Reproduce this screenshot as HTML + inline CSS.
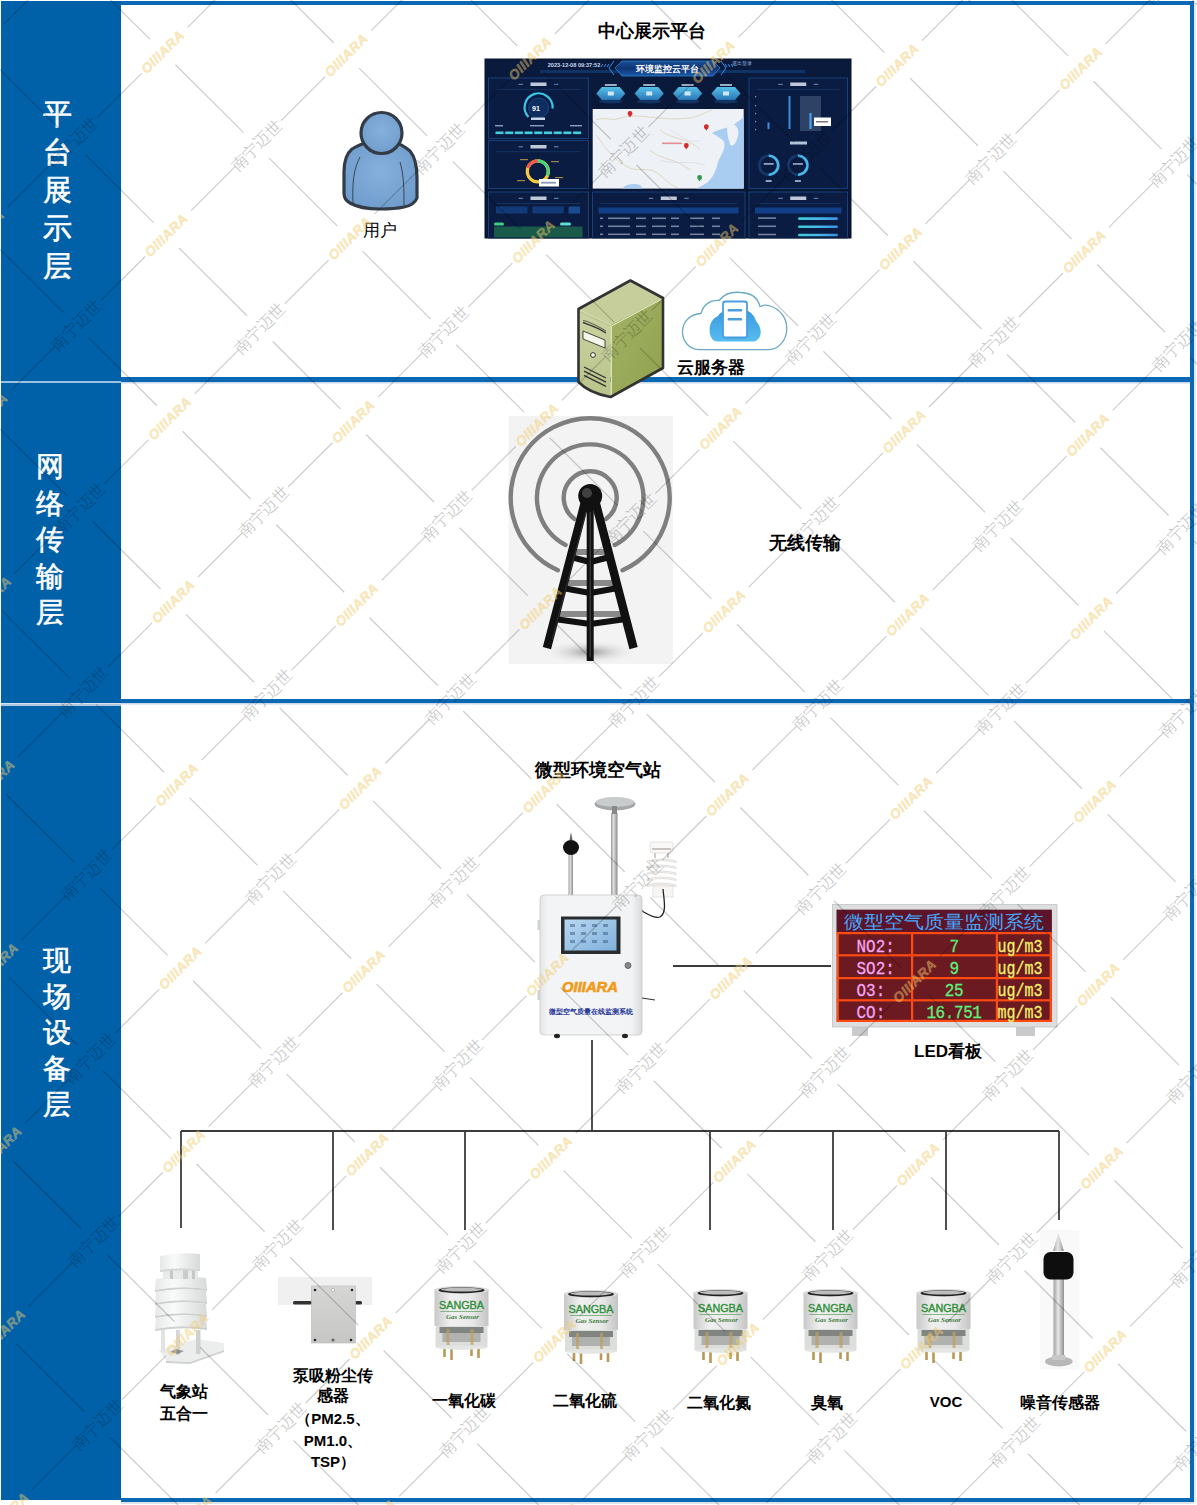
<!DOCTYPE html>
<html><head><meta charset="utf-8"><style>
html,body{margin:0;padding:0;background:#fff;width:1197px;height:1505px;overflow:hidden}
svg{display:block}
</style></head><body>
<svg width="1197" height="1505" viewBox="0 0 1197 1505">

<rect x="0" y="0" width="1197" height="1505" fill="#fff"/>
<!-- panel borders -->
<rect x="121" y="1" width="1073" height="4" fill="#0a68b4"/>
<rect x="121" y="377" width="1073" height="5" fill="#0a68b4"/>
<rect x="121" y="699" width="1073" height="4" fill="#0a68b4"/>
<rect x="121" y="1498" width="1073" height="4" fill="#0a68b4"/>
<rect x="1190" y="1" width="4" height="1501" fill="#0a68b4"/>
<rect x="121" y="1502" width="1073" height="2" fill="#dde4ea"/>
<rect x="1194" y="3" width="2" height="1500" fill="#e4eaf0"/>
<rect x="121" y="382" width="1069" height="1.5" fill="#c8d8e8"/>
<rect x="121" y="703" width="1069" height="1.5" fill="#c8d8e8"/>
<!-- left column -->
<rect x="1" y="1" width="120" height="380" fill="#0161a8"/>
<rect x="1" y="383" width="120" height="320" fill="#0161a8"/>
<rect x="1" y="706" width="120" height="794" fill="#0161a8"/>
<rect x="1" y="381" width="120" height="2" fill="#9cc0e0"/>
<rect x="1" y="703.5" width="120" height="2.5" fill="#b0c8dc"/>
<text x="57" y="124" font-size="29" fill="#fff" font-family="'Liberation Serif',serif" font-weight="normal" stroke="#fff" stroke-width="0.6" text-anchor="middle">平</text><text x="57" y="162" font-size="29" fill="#fff" font-family="'Liberation Serif',serif" font-weight="normal" stroke="#fff" stroke-width="0.6" text-anchor="middle">台</text><text x="57" y="200" font-size="29" fill="#fff" font-family="'Liberation Serif',serif" font-weight="normal" stroke="#fff" stroke-width="0.6" text-anchor="middle">展</text><text x="57" y="238" font-size="29" fill="#fff" font-family="'Liberation Serif',serif" font-weight="normal" stroke="#fff" stroke-width="0.6" text-anchor="middle">示</text><text x="57" y="276" font-size="29" fill="#fff" font-family="'Liberation Serif',serif" font-weight="normal" stroke="#fff" stroke-width="0.6" text-anchor="middle">层</text><text x="50" y="476.0" font-size="28" fill="#fff" font-family="'Liberation Serif',serif" font-weight="normal" stroke="#fff" stroke-width="0.6" text-anchor="middle">网</text><text x="50" y="512.6" font-size="28" fill="#fff" font-family="'Liberation Serif',serif" font-weight="normal" stroke="#fff" stroke-width="0.6" text-anchor="middle">络</text><text x="50" y="549.2" font-size="28" fill="#fff" font-family="'Liberation Serif',serif" font-weight="normal" stroke="#fff" stroke-width="0.6" text-anchor="middle">传</text><text x="50" y="585.8" font-size="28" fill="#fff" font-family="'Liberation Serif',serif" font-weight="normal" stroke="#fff" stroke-width="0.6" text-anchor="middle">输</text><text x="50" y="622.4" font-size="28" fill="#fff" font-family="'Liberation Serif',serif" font-weight="normal" stroke="#fff" stroke-width="0.6" text-anchor="middle">层</text><text x="57" y="970" font-size="28" fill="#fff" font-family="'Liberation Serif',serif" font-weight="normal" stroke="#fff" stroke-width="0.6" text-anchor="middle">现</text><text x="57" y="1006" font-size="28" fill="#fff" font-family="'Liberation Serif',serif" font-weight="normal" stroke="#fff" stroke-width="0.6" text-anchor="middle">场</text><text x="57" y="1042" font-size="28" fill="#fff" font-family="'Liberation Serif',serif" font-weight="normal" stroke="#fff" stroke-width="0.6" text-anchor="middle">设</text><text x="57" y="1078" font-size="28" fill="#fff" font-family="'Liberation Serif',serif" font-weight="normal" stroke="#fff" stroke-width="0.6" text-anchor="middle">备</text><text x="57" y="1114" font-size="28" fill="#fff" font-family="'Liberation Serif',serif" font-weight="normal" stroke="#fff" stroke-width="0.6" text-anchor="middle">层</text><text x="652" y="37" font-size="18" fill="#000" font-family="'Liberation Serif',serif" font-weight="bold" text-anchor="middle" >中心展示平台</text><text x="380" y="236" font-size="17" fill="#000" font-family="'Liberation Serif',serif" font-weight="normal" text-anchor="middle" >用户</text><text x="711" y="373" font-size="17" fill="#000" font-family="'Liberation Serif',serif" font-weight="bold" text-anchor="middle" >云服务器</text><text x="805" y="549" font-size="18" fill="#000" font-family="'Liberation Serif',serif" font-weight="bold" text-anchor="middle" >无线传输</text><text x="598" y="776" font-size="18" fill="#000" font-family="'Liberation Serif',serif" font-weight="bold" text-anchor="middle" >微型环境空气站</text><text x="948" y="1057" font-size="17" fill="#000" font-family="'Liberation Sans',sans-serif" font-weight="bold" text-anchor="middle" >LED看板</text><g stroke="#3c3c3c" stroke-width="1.8" fill="none"><line x1="181" y1="1131" x2="1059" y2="1131"/><line x1="181" y1="1131" x2="181" y2="1228"/><line x1="333" y1="1131" x2="333" y2="1230"/><line x1="465" y1="1131" x2="465" y2="1230"/><line x1="592" y1="1131" x2="592" y2="1131"/><line x1="710" y1="1131" x2="710" y2="1230"/><line x1="833" y1="1131" x2="833" y2="1230"/><line x1="946" y1="1131" x2="946" y2="1230"/><line x1="1059" y1="1131" x2="1059" y2="1220"/><line x1="592" y1="1040" x2="592" y2="1131"/><line x1="673" y1="966" x2="831" y2="966"/></g><text x="184" y="1397" font-size="16" fill="#000" font-family="'Liberation Serif',serif" font-weight="bold" text-anchor="middle" >气象站</text><text x="184" y="1419" font-size="16" fill="#000" font-family="'Liberation Serif',serif" font-weight="bold" text-anchor="middle" >五合一</text><text x="333" y="1381" font-size="16" fill="#000" font-family="'Liberation Serif',serif" font-weight="bold" text-anchor="middle" >泵吸粉尘传</text><text x="333" y="1401" font-size="16" fill="#000" font-family="'Liberation Serif',serif" font-weight="bold" text-anchor="middle" >感器</text><text x="333" y="1424" font-size="15" fill="#000" font-family="'Liberation Sans',sans-serif" font-weight="bold" text-anchor="middle" >（PM2.5、</text><text x="333" y="1446" font-size="15" fill="#000" font-family="'Liberation Sans',sans-serif" font-weight="bold" text-anchor="middle" >PM1.0、</text><text x="333" y="1467" font-size="15" fill="#000" font-family="'Liberation Sans',sans-serif" font-weight="bold" text-anchor="middle" >TSP）</text><text x="464" y="1406" font-size="16" fill="#000" font-family="'Liberation Serif',serif" font-weight="bold" text-anchor="middle" >一氧化碳</text><text x="585" y="1406" font-size="16" fill="#000" font-family="'Liberation Serif',serif" font-weight="bold" text-anchor="middle" >二氧化硫</text><text x="719" y="1408" font-size="16" fill="#000" font-family="'Liberation Serif',serif" font-weight="bold" text-anchor="middle" >二氧化氮</text><text x="827" y="1408" font-size="16" fill="#000" font-family="'Liberation Serif',serif" font-weight="bold" text-anchor="middle" >臭氧</text><text x="946" y="1407" font-size="15" fill="#000" font-family="'Liberation Sans',sans-serif" font-weight="bold" text-anchor="middle" >VOC</text><text x="1060" y="1408" font-size="16" fill="#000" font-family="'Liberation Serif',serif" font-weight="bold" text-anchor="middle" >噪音传感器</text><g>
<defs><radialGradient id="pg" cx="0.5" cy="0.45" r="0.6"><stop offset="0" stop-color="#86b0dc"/><stop offset="1" stop-color="#6f9ccc"/></radialGradient></defs>
<path d="M352,149 C360,144 368,142 372,141 L392,141 C398,143 404,146 410,151 C416,158 417,168 417,178 L417,198 C415,203 410,206 404,207 C395,209 387,209 380,209 C370,209 357,207 350,203 C346,201 344,197 344,193 L344,172 C344,162 346,154 352,149 Z" fill="url(#pg)" stroke="#333c46" stroke-width="3.2" stroke-linejoin="round"/>
<path d="M360,157 C354,168 352,182 353,203" fill="none" stroke="#3a4652" stroke-width="1"/>
<path d="M400,162 C404,175 404,190 404,207" fill="none" stroke="#3a4652" stroke-width="1"/>
<circle cx="381.5" cy="133" r="20.5" fill="url(#pg)" stroke="#333c46" stroke-width="3.2"/>
</g><g><defs>
<linearGradient id="dbg" x1="0" y1="0" x2="0" y2="1"><stop offset="0" stop-color="#0a1a3c"/><stop offset="1" stop-color="#081634"/></linearGradient>
<linearGradient id="hexg" x1="0" y1="0" x2="0" y2="1"><stop offset="0" stop-color="#56c0e8"/><stop offset="1" stop-color="#2a78b8"/></linearGradient>
<linearGradient id="titg" x1="0" y1="0" x2="0" y2="1"><stop offset="0" stop-color="#1a4f96"/><stop offset="0.5" stop-color="#0f3575"/><stop offset="1" stop-color="#1b5aa8"/></linearGradient>
<linearGradient id="mapg" x1="0" y1="0" x2="1" y2="0"><stop offset="0" stop-color="#eef1f5"/><stop offset="0.75" stop-color="#e9eef3"/><stop offset="0.78" stop-color="#a9cbee"/><stop offset="1" stop-color="#a2c8ef"/></linearGradient>
<linearGradient id="barg" x1="0" y1="0" x2="1" y2="0"><stop offset="0" stop-color="#37d0d8"/><stop offset="0.5" stop-color="#4cb8e8"/><stop offset="1" stop-color="#3a8ee0"/></linearGradient>
</defs><rect x="485" y="59" width="366" height="179" fill="url(#dbg)"/><rect x="485" y="59" width="366" height="17" fill="#0a1a3c"/><rect x="540" y="70" width="80" height="3" fill="#123a70" opacity="0.8"/><rect x="715" y="70" width="90" height="3" fill="#123a70" opacity="0.8"/><polygon points="622,61 713,61 720,68 713,76 622,76 615,68" fill="url(#titg)" stroke="#2f7fd0" stroke-width="0.8"/><path d="M614,61 l-5,7 l5,7 M721,61 l5,7 l-5,7" fill="none" stroke="#3a8ae0" stroke-width="1"/><text x="667.5" y="72" font-size="8.6" font-weight="bold" fill="#fff" text-anchor="middle" font-family="'Liberation Sans',sans-serif">环境监控云平台</text><text x="574" y="66.5" font-size="5.6" fill="#c8d8f0" text-anchor="middle" font-family="'Liberation Sans',sans-serif" font-weight="bold">2023-12-08 09:37:52</text><text x="742" y="65" font-size="4.5" fill="#9fb8e0" text-anchor="middle" font-family="'Liberation Sans',sans-serif">退出登录</text><path d="M603,64 l-2,3 M606,64 l-2,3 M609,64 l-2,3 M725,64 l2,3 M728,64 l2,3 M731,64 l2,3" stroke="#3b8ae0" stroke-width="1"/><rect x="488.5" y="78" width="100" height="60.5" fill="#0a1c42" stroke="#1d4580" stroke-width="0.9"/><rect x="530.5" y="82.5" width="16" height="3.5" fill="#dfe8f5" opacity="0.85"/><rect x="518.5" y="83.8" width="4.5" height="1" fill="#6f8fbf"/><rect x="554.0" y="83.8" width="4.5" height="1" fill="#6f8fbf"/><rect x="496.5" y="89" width="84" height="0.6" fill="#1d3f73"/><rect x="488.5" y="140.5" width="100" height="48" fill="#0a1c42" stroke="#1d4580" stroke-width="0.9"/><rect x="530.5" y="145.0" width="16" height="3.5" fill="#dfe8f5" opacity="0.85"/><rect x="518.5" y="146.3" width="4.5" height="1" fill="#6f8fbf"/><rect x="554.0" y="146.3" width="4.5" height="1" fill="#6f8fbf"/><rect x="496.5" y="151.5" width="84" height="0.6" fill="#1d3f73"/><rect x="488.5" y="192" width="100" height="46" fill="#0a1c42" stroke="#1d4580" stroke-width="0.9"/><rect x="530.5" y="196.5" width="16" height="3.5" fill="#dfe8f5" opacity="0.85"/><rect x="518.5" y="197.8" width="4.5" height="1" fill="#6f8fbf"/><rect x="554.0" y="197.8" width="4.5" height="1" fill="#6f8fbf"/><rect x="496.5" y="203" width="84" height="0.6" fill="#1d3f73"/><rect x="592.5" y="192" width="152.5" height="46" fill="#0a1c42" stroke="#1d4580" stroke-width="0.9"/><rect x="660.75" y="196.5" width="16" height="3.5" fill="#dfe8f5" opacity="0.85"/><rect x="648.75" y="197.8" width="4.5" height="1" fill="#6f8fbf"/><rect x="684.25" y="197.8" width="4.5" height="1" fill="#6f8fbf"/><rect x="600.5" y="203" width="136.5" height="0.6" fill="#1d3f73"/><rect x="749" y="78" width="98.5" height="110.5" fill="#0a1c42" stroke="#1d4580" stroke-width="0.9"/><rect x="790.25" y="82.5" width="16" height="3.5" fill="#dfe8f5" opacity="0.85"/><rect x="778.25" y="83.8" width="4.5" height="1" fill="#6f8fbf"/><rect x="813.75" y="83.8" width="4.5" height="1" fill="#6f8fbf"/><rect x="757" y="89" width="82.5" height="0.6" fill="#1d3f73"/><rect x="749" y="192" width="98.5" height="46" fill="#0a1c42" stroke="#1d4580" stroke-width="0.9"/><rect x="790.25" y="196.5" width="16" height="3.5" fill="#dfe8f5" opacity="0.85"/><rect x="778.25" y="197.8" width="4.5" height="1" fill="#6f8fbf"/><rect x="813.75" y="197.8" width="4.5" height="1" fill="#6f8fbf"/><rect x="757" y="203" width="82.5" height="0.6" fill="#1d3f73"/><circle cx="538.6" cy="108" r="10" fill="#0e2e62" stroke="#19457f" stroke-width="1"/><path d="M528.5,117 A14,14 0 1 1 552.6,108.5" fill="none" stroke="#38c6e8" stroke-width="2.2"/><text x="536" y="110.5" font-size="7" fill="#fff" text-anchor="middle" font-family="'Liberation Sans',sans-serif" font-weight="bold">91</text><rect x="531" y="117.5" width="14" height="2.5" fill="#c8d4e6"/><rect x="495" y="125" width="8" height="1.4" fill="#8aa0c0"/><rect x="530" y="125" width="14" height="1.4" fill="#8aa0c0"/><rect x="570" y="125" width="12" height="1.4" fill="#8aa0c0"/><rect x="495.5" y="131.5" width="8" height="2.6" fill="#3fd0e0"/><rect x="505.2" y="131.5" width="8" height="2.6" fill="#3fd0e0"/><rect x="514.9" y="131.5" width="8" height="2.6" fill="#3fd0e0"/><rect x="524.6" y="131.5" width="8" height="2.6" fill="#3fd0e0"/><rect x="534.3" y="131.5" width="8" height="2.6" fill="#3fd0e0"/><rect x="544.0" y="131.5" width="8" height="2.6" fill="#3fd0e0"/><rect x="553.7" y="131.5" width="8" height="2.6" fill="#3fd0e0"/><rect x="563.4" y="131.5" width="8" height="2.6" fill="#3fd0e0"/><rect x="573.1" y="131.5" width="8" height="2.6" fill="#3fd0e0"/><circle cx="537.8" cy="171.4" r="10.5" fill="none" stroke="#f5c842" stroke-width="3.2"/><path d="M527.8,168 A10.5,10.5 0 0 1 537.8,160.9" fill="none" stroke="#ef5a4a" stroke-width="3.2"/><path d="M537.8,160.9 A10.5,10.5 0 0 1 547.3,175.5" fill="none" stroke="#4ad37a" stroke-width="3.2"/><rect x="539" y="179" width="20" height="7.5" fill="#fff"/><rect x="541" y="181.8" width="15" height="1.8" fill="#8a9ab8"/><rect x="520" y="159" width="8" height="1.2" fill="#c8a040" opacity="0.8"/><rect x="551" y="161" width="8" height="1.2" fill="#c8a040" opacity="0.8"/><rect x="517" y="180" width="8" height="1.2" fill="#c8a040" opacity="0.8"/><rect x="555" y="177" width="8" height="1.2" fill="#c8a040" opacity="0.8"/><rect x="496" y="206.5" width="31.5" height="7" fill="#123a78"/><rect x="532.5" y="206.5" width="31.5" height="7" fill="#123a78"/><rect x="568.5" y="206.5" width="11.5" height="7" fill="#1a4a90"/><rect x="494" y="226.5" width="88.5" height="11.5" fill="#1a5a4a"/><rect x="494" y="222.5" width="10" height="3" rx="1.5" fill="#3fcf80"/><rect x="560" y="222.5" width="11" height="3" rx="1.5" fill="#5de0d0"/><polygon points="596.3,93.4 601.8,86.9 619.8,86.9 625.3,93.4 619.8,99.9 601.8,99.9" fill="url(#hexg)"/><rect x="604.8" y="84" width="12" height="2" fill="#c0d0e8" opacity="0.8"/><rect x="607.8" y="91.5" width="6" height="4" fill="#e8f4ff" opacity="0.85"/><ellipse cx="610.8" cy="101.4" rx="12" ry="2" fill="#1b4f8a" opacity="0.5"/><polygon points="634.7,93.4 640.2,86.9 658.2,86.9 663.7,93.4 658.2,99.9 640.2,99.9" fill="url(#hexg)"/><rect x="643.2" y="84" width="12" height="2" fill="#c0d0e8" opacity="0.8"/><rect x="646.2" y="91.5" width="6" height="4" fill="#e8f4ff" opacity="0.85"/><ellipse cx="649.2" cy="101.4" rx="12" ry="2" fill="#1b4f8a" opacity="0.5"/><polygon points="673.1,93.4 678.6,86.9 696.6,86.9 702.1,93.4 696.6,99.9 678.6,99.9" fill="url(#hexg)"/><rect x="681.6" y="84" width="12" height="2" fill="#c0d0e8" opacity="0.8"/><rect x="684.6" y="91.5" width="6" height="4" fill="#e8f4ff" opacity="0.85"/><ellipse cx="687.6" cy="101.4" rx="12" ry="2" fill="#1b4f8a" opacity="0.5"/><polygon points="711.5,93.4 717,86.9 735,86.9 740.5,93.4 735,99.9 717,99.9" fill="url(#hexg)"/><rect x="720" y="84" width="12" height="2" fill="#c0d0e8" opacity="0.8"/><rect x="723" y="91.5" width="6" height="4" fill="#e8f4ff" opacity="0.85"/><ellipse cx="726" cy="101.4" rx="12" ry="2" fill="#1b4f8a" opacity="0.5"/><rect x="592.7" y="109" width="151" height="79.6" fill="#eef1f6"/><path d="M743.7,117 C738,122 732,126 726,128 C720,129 716,131 712,133 C716,136 722,138 724,142 C726,150 720,156 718,162 C716,170 714,176 708,182 C704,185 700,187 696,188.6 L743.7,188.6 Z" fill="#a9cdf0"/><path d="M728,124 C734,122 740,128 738,136 C736,144 732,148 730,144 C728,138 726,130 728,124 Z" fill="#eef1f6"/><path d="M622,188.6 C626,184 634,183 640,185 C642,187 642,188 642,188.6 Z" fill="#a9cdf0"/><path d="M596,120 C606,116 612,122 620,118 C640,112 660,122 690,118 C700,116 706,112 712,110 M596,135 C604,145 612,160 630,168 C640,172 650,166 660,175 C668,182 672,186 678,188 M660,130 C672,140 690,138 700,150 M650,150 C660,160 676,158 690,170" fill="none" stroke="#d9cba8" stroke-width="0.7"/><path d="M670,130 C680,135 690,145 700,140 M660,160 C670,165 690,160 705,165" fill="none" stroke="#c8d0e0" stroke-width="0.5"/><circle cx="630" cy="113.4" r="2.4" fill="#d42a2a"/><path d="M628.2,114.4 L630,117.4 L631.8,114.4 Z" fill="#d42a2a"/><circle cx="706.3" cy="126.7" r="2.4" fill="#d42a2a"/><path d="M704.5,127.7 L706.3,130.7 L708.0999999999999,127.7 Z" fill="#d42a2a"/><circle cx="686.3" cy="145.4" r="2.4" fill="#d42a2a"/><path d="M684.5,146.4 L686.3,149.4 L688.0999999999999,146.4 Z" fill="#d42a2a"/><circle cx="699.6" cy="177.5" r="2.4" fill="#2f9a4a"/><path d="M697.8000000000001,178.5 L699.6,181.5 L701.4,178.5 Z" fill="#2f9a4a"/><rect x="662" y="142.5" width="20" height="1.6" fill="#e05050" opacity="0.6"/><rect x="598.5" y="207.5" width="140" height="6" fill="#123f86"/><rect x="600" y="217.5" width="3" height="1.6" fill="#b8c8e0" opacity="0.6"/><rect x="608" y="217.5" width="22" height="1.6" fill="#b8c8e0" opacity="0.6"/><rect x="636" y="217.5" width="10" height="1.6" fill="#b8c8e0" opacity="0.6"/><rect x="652" y="217.5" width="14" height="1.6" fill="#b8c8e0" opacity="0.6"/><rect x="671" y="217.5" width="8" height="1.6" fill="#b8c8e0" opacity="0.6"/><rect x="690" y="217.5" width="14" height="1.6" fill="#b8c8e0" opacity="0.6"/><rect x="712" y="217.5" width="8" height="1.6" fill="#b8c8e0" opacity="0.6"/><rect x="600" y="225.5" width="3" height="1.6" fill="#b8c8e0" opacity="0.6"/><rect x="608" y="225.5" width="22" height="1.6" fill="#b8c8e0" opacity="0.6"/><rect x="636" y="225.5" width="10" height="1.6" fill="#b8c8e0" opacity="0.6"/><rect x="652" y="225.5" width="14" height="1.6" fill="#b8c8e0" opacity="0.6"/><rect x="671" y="225.5" width="8" height="1.6" fill="#b8c8e0" opacity="0.6"/><rect x="690" y="225.5" width="14" height="1.6" fill="#b8c8e0" opacity="0.6"/><rect x="712" y="225.5" width="8" height="1.6" fill="#b8c8e0" opacity="0.6"/><rect x="600" y="233.5" width="3" height="1.6" fill="#b8c8e0" opacity="0.6"/><rect x="608" y="233.5" width="22" height="1.6" fill="#b8c8e0" opacity="0.6"/><rect x="636" y="233.5" width="10" height="1.6" fill="#b8c8e0" opacity="0.6"/><rect x="652" y="233.5" width="14" height="1.6" fill="#b8c8e0" opacity="0.6"/><rect x="671" y="233.5" width="8" height="1.6" fill="#b8c8e0" opacity="0.6"/><rect x="690" y="233.5" width="14" height="1.6" fill="#b8c8e0" opacity="0.6"/><rect x="712" y="233.5" width="8" height="1.6" fill="#b8c8e0" opacity="0.6"/><rect x="767.5" y="122.5" width="2" height="6.5" fill="#3a8ee0"/><rect x="788.5" y="96" width="2" height="33" fill="#3a8ee0"/><rect x="809.5" y="113" width="2" height="16" fill="#3a8ee0"/><rect x="800" y="96" width="21" height="35" fill="#3a4f70" opacity="0.75"/><rect x="809.5" y="113" width="2" height="16" fill="#4aa0f0"/><rect x="814" y="117.5" width="17" height="8.5" fill="#fff"/><rect x="816" y="121" width="12" height="1.5" fill="#777"/><rect x="755" y="96" width="1.2" height="1.2" fill="#8aa0c0"/><rect x="755" y="105" width="1.2" height="1.2" fill="#8aa0c0"/><rect x="755" y="113" width="1.2" height="1.2" fill="#8aa0c0"/><rect x="755" y="121" width="1.2" height="1.2" fill="#8aa0c0"/><rect x="755" y="129" width="1.2" height="1.2" fill="#8aa0c0"/><rect x="790" y="141.5" width="17" height="3" fill="#cfe0f5" opacity="0.85"/><circle cx="768.7" cy="165.2" r="9.5" fill="none" stroke="#17386a" stroke-width="2.6"/><path d="M768.7,155.7 A9.5,9.5 0 0 1 768.7,174.7" fill="none" stroke="#48b8ea" stroke-width="2.6"/><rect x="763.7" y="163" width="10" height="1.8" fill="#b0c4e0" opacity="0.8"/><rect x="765.7" y="180" width="6" height="2" fill="#b0c4e0" opacity="0.8"/><circle cx="797.9" cy="165.2" r="9.5" fill="none" stroke="#17386a" stroke-width="2.6"/><path d="M797.9,155.7 A9.5,9.5 0 0 1 797.9,174.7" fill="none" stroke="#48b8ea" stroke-width="2.6"/><rect x="792.9" y="163" width="10" height="1.8" fill="#b0c4e0" opacity="0.8"/><rect x="794.9" y="180" width="6" height="2" fill="#b0c4e0" opacity="0.8"/><rect x="755" y="207.5" width="86.5" height="6" fill="#123f86"/><rect x="798" y="217.3" width="40" height="2.6" rx="1.3" fill="url(#barg)"/><rect x="758" y="217.3" width="18" height="1.6" fill="#b8c8e0" opacity="0.6"/><rect x="798" y="225.5" width="40" height="2.6" rx="1.3" fill="url(#barg)"/><rect x="758" y="225.5" width="18" height="1.6" fill="#b8c8e0" opacity="0.6"/><rect x="798" y="233.70000000000002" width="40" height="2.6" rx="1.3" fill="url(#barg)"/><rect x="758" y="233.70000000000002" width="18" height="1.6" fill="#b8c8e0" opacity="0.6"/><rect x="485" y="59" width="366" height="179" fill="none" stroke="#06122a" stroke-width="1"/></g><g stroke-linejoin="round"><defs>
<linearGradient id="srvf" x1="0" y1="0" x2="0" y2="1"><stop offset="0" stop-color="#cbd3a2"/><stop offset="1" stop-color="#b9c48a"/></linearGradient>
<linearGradient id="srvr" x1="0" y1="0" x2="1" y2="1"><stop offset="0" stop-color="#a3b266"/><stop offset="1" stop-color="#8fa24e"/></linearGradient>
<linearGradient id="cldg" x1="0" y1="0" x2="0" y2="1"><stop offset="0" stop-color="#3a9ae0"/><stop offset="1" stop-color="#56bdf0"/></linearGradient>
</defs><polygon points="578.5,309 630.4,280.5 662.5,298 610.6,325" fill="#c6cf9c"/><polygon points="610.6,325 662.5,298 662.5,368 610.6,396" fill="url(#srvr)"/><path d="M578.5,309 L610.6,325 L610.6,396 C600,394 586,389 578.5,381 Z" fill="url(#srvf)"/><path d="M611.5,326 L662,299" stroke="#eef3c8" stroke-width="1" fill="none"/><path d="M611.5,326 L611.5,395" stroke="#e4ecb8" stroke-width="0.9" fill="none"/><path d="M580,312 C592,318 602,322 610,326" stroke="#aab57a" stroke-width="0.6" fill="none"/><path d="M578.5,309 L630.4,280.5 L663,298 L663,368 L610.6,397 C600,395 586,390 578.5,382 Z" fill="none" stroke="#333" stroke-width="2.6"/><path d="M583,322.5 C590,325 598,327.5 606,333" stroke="#333" stroke-width="1.4" fill="none"/><path d="M583,321 C583,319 598,326 606,331" stroke="#333" stroke-width="0.8" fill="none"/><path d="M583,331 L605,340 L605,348 L583,339 Z" fill="#f4f6ea" stroke="#333" stroke-width="0.9"/><circle cx="593" cy="355" r="2.4" fill="#f4f6ea" stroke="#333" stroke-width="1"/><path d="M584,367.0 L606,378.0" stroke="#333" stroke-width="1.3" fill="none"/><path d="M584,371.2 L606,382.2" stroke="#333" stroke-width="1.3" fill="none"/><path d="M584,375.4 L606,386.4" stroke="#333" stroke-width="1.3" fill="none"/></g><g><path d="M700,349.7 C689,349.7 682.5,341 682.5,332 C682.5,321 691,314 701,313.5 C703,305 710,300 719,300.5 C724,294 732,291.5 741,292.5 C751,293 758,298 760,306.5 C763,305 767,305 770,306 C780,309 787,318 786.8,329 C786.5,341 778,349.7 768,349.7 Z" fill="#fff" stroke="#6aaac4" stroke-width="1.3"/><path d="M718,341.6 C712,341.6 709.6,336 709.6,330 C709.6,323 713,318 718,316 C720,312 724,310.5 728,311 L748,311 C752,313 755,317 756,321 C759,324 760.7,328 760.7,332 C760.7,338 757,341.6 752,341.6 Z" fill="url(#cldg)"/><rect x="723" y="301.5" width="24" height="36" rx="2.5" fill="#fff" stroke="#4a9ee0" stroke-width="1.8"/><rect x="727.6" y="309" width="14.6" height="2.6" rx="1.2" fill="#4a9ee0"/><rect x="727.6" y="318" width="14.6" height="2.6" rx="1.2" fill="#4a9ee0"/></g><g><defs><radialGradient id="twsh" cx="0.5" cy="0.5" r="0.5"><stop offset="0" stop-color="#9a9a9a"/><stop offset="1" stop-color="#f2f2f2" stop-opacity="0"/></radialGradient></defs><rect x="508.5" y="416" width="164.5" height="248" fill="#f3f3f3"/><path d="M557.86,570.33 A79.5,79.5 0 1 1 622.54,570.33" fill="none" stroke="#7f7f7f" stroke-width="4.4" stroke-linecap="round"/><path d="M565.59,544.98 A53.3,53.3 0 1 1 614.81,544.98" fill="none" stroke="#7f7f7f" stroke-width="4.4" stroke-linecap="round"/><path d="M574.44,519.00 A26.5,26.5 0 1 1 605.96,519.00" fill="none" stroke="#7f7f7f" stroke-width="4.4" stroke-linecap="round"/><ellipse cx="590" cy="652" rx="48" ry="12" fill="url(#twsh)"/><path d="M570.5,552 L609.5,552" stroke="#8a8a8a" stroke-width="6"/><path d="M562.8,583 L617.2,583" stroke="#8a8a8a" stroke-width="6"/><path d="M555.0,614 L625.0,614" stroke="#8a8a8a" stroke-width="6"/><path d="M584,506 L548,644" stroke="#111" stroke-width="8.5" stroke-linecap="square"/><path d="M596.5,506 L632.5,644" stroke="#111" stroke-width="8.5" stroke-linecap="square"/><path d="M590.2,506 L590.2,661" stroke="#111" stroke-width="7" /><path d="M570.7,557 L590.2,562" stroke="#111" stroke-width="6"/><path d="M590.2,562 L609.8,557" stroke="#111" stroke-width="6"/><path d="M562.6,588 L590.2,593" stroke="#111" stroke-width="6"/><path d="M590.2,593 L617.9,588" stroke="#111" stroke-width="6"/><path d="M554.5,619 L590.2,624" stroke="#111" stroke-width="6"/><path d="M590.2,624 L626.0,619" stroke="#111" stroke-width="6"/><path d="M590.2,512 L590.2,658" stroke="#555" stroke-width="0.8"/><path d="M586,512 L552,640" stroke="#444" stroke-width="0.6"/><circle cx="590.2" cy="496" r="12" fill="#111"/><circle cx="587" cy="493" r="5" fill="#555" opacity="0.7"/></g><g><defs>
<linearGradient id="stbox" x1="0" y1="0" x2="1" y2="0"><stop offset="0" stop-color="#e2e4e6"/><stop offset="0.08" stop-color="#f4f5f6"/><stop offset="0.9" stop-color="#f2f3f4"/><stop offset="1" stop-color="#d8dadc"/></linearGradient>
<linearGradient id="pole" x1="0" y1="0" x2="1" y2="0"><stop offset="0" stop-color="#9a9a9a"/><stop offset="0.4" stop-color="#e0e0e0"/><stop offset="1" stop-color="#8a8a8a"/></linearGradient>
<linearGradient id="scr" x1="0" y1="0" x2="1" y2="1"><stop offset="0" stop-color="#b8d8f0"/><stop offset="1" stop-color="#7fb0dc"/></linearGradient>
</defs><rect x="611" y="813" width="6.5" height="84" fill="url(#pole)"/><ellipse cx="615" cy="804" rx="20.5" ry="6.5" fill="#a5a8aa"/><ellipse cx="615" cy="802" rx="19" ry="5" fill="#c9cccd"/><rect x="612" y="806" width="5" height="8" fill="#888"/><rect x="568.5" y="850" width="4.5" height="47" fill="url(#pole)"/><ellipse cx="571" cy="847.5" rx="8" ry="7.5" fill="#111"/><path d="M569.5,840 L571,832 L572.5,840 Z" fill="#666"/><rect x="650" y="842" width="23" height="11" rx="2" fill="#faf8f6" stroke="#d8d4d0" stroke-width="0.6"/><rect x="652" y="848" width="19" height="2" fill="#c8c4c0"/><rect x="654" y="853" width="2" height="5" fill="#d0ccc8"/><rect x="667" y="853" width="2" height="5" fill="#d0ccc8"/><path d="M647,861 Q661,857 676,861 L676,862.5 Q661,858.5 647,862.5 Z" fill="#fbf9f7" stroke="#cfcac6" stroke-width="0.6"/><path d="M647,867 Q661,863 676,867 L676,868.5 Q661,864.5 647,868.5 Z" fill="#fbf9f7" stroke="#cfcac6" stroke-width="0.6"/><path d="M647,873 Q661,869 676,873 L676,874.5 Q661,870.5 647,874.5 Z" fill="#fbf9f7" stroke="#cfcac6" stroke-width="0.6"/><path d="M647,879 Q661,875 676,879 L676,880.5 Q661,876.5 647,880.5 Z" fill="#fbf9f7" stroke="#cfcac6" stroke-width="0.6"/><path d="M647,885 Q661,881 676,885 L676,886.5 Q661,882.5 647,886.5 Z" fill="#fbf9f7" stroke="#cfcac6" stroke-width="0.6"/><rect x="653" y="886" width="20" height="11" fill="#f8f6f4" stroke="#d6d2ce" stroke-width="0.6"/><path d="M663,889 C664,900 667,913 660,917 C654,919 648,914 642,911" fill="none" stroke="#222" stroke-width="1.3"/><path d="M643,911 L638,909" stroke="#555" stroke-width="1.5"/><rect x="540" y="895" width="102" height="140" rx="4" fill="url(#stbox)" stroke="#c8cacc" stroke-width="0.8"/><rect x="537.5" y="920" width="2.5" height="10" fill="#cfd1d3"/><rect x="537.5" y="990" width="2.5" height="10" fill="#cfd1d3"/><ellipse cx="557" cy="1036" rx="3" ry="2.2" fill="#222"/><ellipse cx="625" cy="1036" rx="3" ry="2.2" fill="#222"/><rect x="561" y="916.5" width="59.5" height="37.5" fill="#2a2d30"/><rect x="564.5" y="919.5" width="52" height="31" fill="url(#scr)"/><rect x="570" y="924" width="5" height="3" fill="#3a5a80" opacity="0.5"/><rect x="581" y="924" width="5" height="3" fill="#3a5a80" opacity="0.5"/><rect x="592" y="924" width="5" height="3" fill="#3a5a80" opacity="0.5"/><rect x="603" y="924" width="5" height="3" fill="#3a5a80" opacity="0.5"/><rect x="570" y="932" width="5" height="3" fill="#3a5a80" opacity="0.5"/><rect x="581" y="932" width="5" height="3" fill="#3a5a80" opacity="0.5"/><rect x="592" y="932" width="5" height="3" fill="#3a5a80" opacity="0.5"/><rect x="603" y="932" width="5" height="3" fill="#3a5a80" opacity="0.5"/><rect x="570" y="940" width="5" height="3" fill="#3a5a80" opacity="0.5"/><rect x="581" y="940" width="5" height="3" fill="#3a5a80" opacity="0.5"/><rect x="592" y="940" width="5" height="3" fill="#3a5a80" opacity="0.5"/><rect x="603" y="940" width="5" height="3" fill="#3a5a80" opacity="0.5"/><circle cx="628" cy="965.5" r="3" fill="#888" stroke="#555" stroke-width="0.8"/><path d="M642,998 L655,1000" stroke="#333" stroke-width="1"/><text x="590" y="991.5" font-size="14" font-weight="bold" font-style="italic" fill="#f09a18" text-anchor="middle" font-family="'Liberation Sans',sans-serif" textLength="56" lengthAdjust="spacingAndGlyphs" stroke="#f09a18" stroke-width="0.6">OIIIARA</text><text x="590.5" y="1014" font-size="7.3" fill="#2a3a9a" text-anchor="middle" font-family="'Liberation Sans',sans-serif" font-weight="bold">微型空气质量在线监测系统</text></g><g><rect x="852" y="1026" width="16" height="10" fill="#c8cacc"/><rect x="1016" y="1026" width="19" height="10" fill="#c8cacc"/><rect x="832.5" y="904.5" width="224.5" height="122.5" fill="#dcdedf" stroke="#c0c2c4" stroke-width="0.8"/><rect x="836.7" y="909.8" width="215" height="111.8" fill="#6c1a22"/><rect x="836.7" y="909.8" width="215" height="22.5" fill="#5c1428"/><g fill="#ff4a12"><rect x="836.7" y="932" width="215" height="2.2"/><rect x="836.7" y="954.2" width="215" height="2.2"/><rect x="836.7" y="977" width="215" height="2.2"/><rect x="836.7" y="999.2" width="215" height="2.2"/><rect x="836.7" y="1019.8" width="215" height="2.2"/><rect x="836.7" y="932" width="2.2" height="89.6"/><rect x="911" y="932" width="2.2" height="89.6"/><rect x="995.8" y="932" width="2.2" height="89.6"/><rect x="1049.6" y="932" width="2.2" height="89.6"/></g><text x="944" y="928" font-size="18" fill="#44a8ff" text-anchor="middle" font-family="'Liberation Sans',sans-serif" textLength="200" lengthAdjust="spacingAndGlyphs">微型空气质量监测系统</text><g transform="translate(0,951.5) scale(1,1.18)"><text x="856.5" y="0" font-size="16" fill="#f4a4f4" stroke="#f4a4f4" stroke-width="0.25" font-family="'Liberation Mono',monospace">NO2:</text><text x="954" y="0" font-size="16" fill="#5cf27a" stroke="#5cf27a" stroke-width="0.25" text-anchor="middle" font-family="'Liberation Mono',monospace" letter-spacing="-0.4">7</text><text x="997.5" y="0" font-size="15" fill="#f4f46a" stroke="#f4f46a" stroke-width="0.25" font-family="'Liberation Mono',monospace">ug/m3</text></g><g transform="translate(0,973.7) scale(1,1.18)"><text x="856.5" y="0" font-size="16" fill="#f4a4f4" stroke="#f4a4f4" stroke-width="0.25" font-family="'Liberation Mono',monospace">SO2:</text><text x="954" y="0" font-size="16" fill="#5cf27a" stroke="#5cf27a" stroke-width="0.25" text-anchor="middle" font-family="'Liberation Mono',monospace" letter-spacing="-0.4">9</text><text x="997.5" y="0" font-size="15" fill="#f4f46a" stroke="#f4f46a" stroke-width="0.25" font-family="'Liberation Mono',monospace">ug/m3</text></g><g transform="translate(0,995.9) scale(1,1.18)"><text x="856.5" y="0" font-size="16" fill="#f4a4f4" stroke="#f4a4f4" stroke-width="0.25" font-family="'Liberation Mono',monospace">O3:</text><text x="954" y="0" font-size="16" fill="#5cf27a" stroke="#5cf27a" stroke-width="0.25" text-anchor="middle" font-family="'Liberation Mono',monospace" letter-spacing="-0.4">25</text><text x="997.5" y="0" font-size="15" fill="#f4f46a" stroke="#f4f46a" stroke-width="0.25" font-family="'Liberation Mono',monospace">ug/m3</text></g><g transform="translate(0,1018.1) scale(1,1.18)"><text x="856.5" y="0" font-size="16" fill="#f4a4f4" stroke="#f4a4f4" stroke-width="0.25" font-family="'Liberation Mono',monospace">CO:</text><text x="954" y="0" font-size="16" fill="#5cf27a" stroke="#5cf27a" stroke-width="0.25" text-anchor="middle" font-family="'Liberation Mono',monospace" letter-spacing="-0.4">16.751</text><text x="997.5" y="0" font-size="15" fill="#f4f46a" stroke="#f4f46a" stroke-width="0.25" font-family="'Liberation Mono',monospace">mg/m3</text></g></g><defs>
<linearGradient id="sgbody" x1="0" y1="0" x2="1" y2="0"><stop offset="0" stop-color="#c8c8c8"/><stop offset="0.3" stop-color="#f0f0f0"/><stop offset="0.7" stop-color="#e8e8e8"/><stop offset="1" stop-color="#c4c4c4"/></linearGradient>
<linearGradient id="rod" x1="0" y1="0" x2="1" y2="0"><stop offset="0" stop-color="#a0a0a0"/><stop offset="0.45" stop-color="#e8e8e8"/><stop offset="1" stop-color="#909090"/></linearGradient>
<linearGradient id="dustbox" x1="0" y1="0" x2="0" y2="1"><stop offset="0" stop-color="#d6d6d4"/><stop offset="1" stop-color="#c6c6c4"/></linearGradient>
</defs><g><rect x="443.2" y="1346" width="2.6" height="11" fill="#b89a58"/><rect x="450.2" y="1346" width="2.6" height="14" fill="#b89a58"/><rect x="470.2" y="1346" width="2.6" height="10" fill="#b89a58"/><rect x="477.2" y="1346" width="2.6" height="12" fill="#b89a58"/><rect x="435.5" y="1325" width="52" height="23" rx="2" fill="#dcdedc"/><rect x="439.5" y="1327" width="44" height="6" fill="#6a6e6a" opacity="0.8"/><rect x="442.5" y="1333" width="38" height="9" fill="#8a8e8a" opacity="0.55"/><rect x="446.5" y="1329" width="3" height="16" fill="#c0a060" opacity="0.7"/><rect x="470.5" y="1329" width="3" height="16" fill="#c0a060" opacity="0.7"/><ellipse cx="461.5" cy="1347.5" rx="26.0" ry="2.2" fill="#e4e6e4"/><rect x="434.5" y="1289" width="54" height="37" fill="url(#sgbody)"/><ellipse cx="461.5" cy="1290" rx="27.0" ry="4" fill="#dadada"/><ellipse cx="461.5" cy="1290.2" rx="23.0" ry="3" fill="#222"/><ellipse cx="461.5" cy="1289.6" rx="20.5" ry="2" fill="#bdbdbd"/><text x="461.5" y="1308.5" font-size="10" fill="#2f8f3a" text-anchor="middle" font-family="'Liberation Sans',sans-serif" textLength="45" lengthAdjust="spacingAndGlyphs" stroke="#2f8f3a" stroke-width="0.35">SANGBA</text><rect x="440.5" y="1311" width="42" height="0.7" fill="#5aa05a"/><text x="462.5" y="1318.5" font-size="7" fill="#3a7a3a" text-anchor="middle" font-style="italic" font-family="'Liberation Serif',serif" font-weight="bold">Gas Sensor</text></g><g><rect x="572.7" y="1350" width="2.6" height="11" fill="#b89a58"/><rect x="579.7" y="1350" width="2.6" height="14" fill="#b89a58"/><rect x="599.7" y="1350" width="2.6" height="10" fill="#b89a58"/><rect x="606.7" y="1350" width="2.6" height="12" fill="#b89a58"/><rect x="565" y="1329" width="52" height="23" rx="2" fill="#dcdedc"/><rect x="569" y="1331" width="44" height="6" fill="#6a6e6a" opacity="0.8"/><rect x="572" y="1337" width="38" height="9" fill="#8a8e8a" opacity="0.55"/><rect x="576" y="1333" width="3" height="16" fill="#c0a060" opacity="0.7"/><rect x="600" y="1333" width="3" height="16" fill="#c0a060" opacity="0.7"/><ellipse cx="591.0" cy="1351.5" rx="26.0" ry="2.2" fill="#e4e6e4"/><rect x="564" y="1293" width="54" height="37" fill="url(#sgbody)"/><ellipse cx="591.0" cy="1294" rx="27.0" ry="4" fill="#dadada"/><ellipse cx="591.0" cy="1294.2" rx="23.0" ry="3" fill="#222"/><ellipse cx="591.0" cy="1293.6" rx="20.5" ry="2" fill="#bdbdbd"/><text x="591.0" y="1312.5" font-size="10" fill="#2f8f3a" text-anchor="middle" font-family="'Liberation Sans',sans-serif" textLength="45" lengthAdjust="spacingAndGlyphs" stroke="#2f8f3a" stroke-width="0.35">SANGBA</text><rect x="570" y="1315" width="42" height="0.7" fill="#5aa05a"/><text x="592.0" y="1322.5" font-size="7" fill="#3a7a3a" text-anchor="middle" font-style="italic" font-family="'Liberation Serif',serif" font-weight="bold">Gas Sensor</text></g><g><rect x="702.2" y="1349" width="2.6" height="11" fill="#b89a58"/><rect x="709.2" y="1349" width="2.6" height="14" fill="#b89a58"/><rect x="729.2" y="1349" width="2.6" height="10" fill="#b89a58"/><rect x="736.2" y="1349" width="2.6" height="12" fill="#b89a58"/><rect x="694.5" y="1328" width="52" height="23" rx="2" fill="#dcdedc"/><rect x="698.5" y="1330" width="44" height="6" fill="#6a6e6a" opacity="0.8"/><rect x="701.5" y="1336" width="38" height="9" fill="#8a8e8a" opacity="0.55"/><rect x="705.5" y="1332" width="3" height="16" fill="#c0a060" opacity="0.7"/><rect x="729.5" y="1332" width="3" height="16" fill="#c0a060" opacity="0.7"/><ellipse cx="720.5" cy="1350.5" rx="26.0" ry="2.2" fill="#e4e6e4"/><rect x="693.5" y="1292" width="54" height="37" fill="url(#sgbody)"/><ellipse cx="720.5" cy="1293" rx="27.0" ry="4" fill="#dadada"/><ellipse cx="720.5" cy="1293.2" rx="23.0" ry="3" fill="#222"/><ellipse cx="720.5" cy="1292.6" rx="20.5" ry="2" fill="#bdbdbd"/><text x="720.5" y="1311.5" font-size="10" fill="#2f8f3a" text-anchor="middle" font-family="'Liberation Sans',sans-serif" textLength="45" lengthAdjust="spacingAndGlyphs" stroke="#2f8f3a" stroke-width="0.35">SANGBA</text><rect x="699.5" y="1314" width="42" height="0.7" fill="#5aa05a"/><text x="721.5" y="1321.5" font-size="7" fill="#3a7a3a" text-anchor="middle" font-style="italic" font-family="'Liberation Serif',serif" font-weight="bold">Gas Sensor</text></g><g><rect x="812.2" y="1349" width="2.6" height="11" fill="#b89a58"/><rect x="819.2" y="1349" width="2.6" height="14" fill="#b89a58"/><rect x="839.2" y="1349" width="2.6" height="10" fill="#b89a58"/><rect x="846.2" y="1349" width="2.6" height="12" fill="#b89a58"/><rect x="804.5" y="1328" width="52" height="23" rx="2" fill="#dcdedc"/><rect x="808.5" y="1330" width="44" height="6" fill="#6a6e6a" opacity="0.8"/><rect x="811.5" y="1336" width="38" height="9" fill="#8a8e8a" opacity="0.55"/><rect x="815.5" y="1332" width="3" height="16" fill="#c0a060" opacity="0.7"/><rect x="839.5" y="1332" width="3" height="16" fill="#c0a060" opacity="0.7"/><ellipse cx="830.5" cy="1350.5" rx="26.0" ry="2.2" fill="#e4e6e4"/><rect x="803.5" y="1292" width="54" height="37" fill="url(#sgbody)"/><ellipse cx="830.5" cy="1293" rx="27.0" ry="4" fill="#dadada"/><ellipse cx="830.5" cy="1293.2" rx="23.0" ry="3" fill="#222"/><ellipse cx="830.5" cy="1292.6" rx="20.5" ry="2" fill="#bdbdbd"/><text x="830.5" y="1311.5" font-size="10" fill="#2f8f3a" text-anchor="middle" font-family="'Liberation Sans',sans-serif" textLength="45" lengthAdjust="spacingAndGlyphs" stroke="#2f8f3a" stroke-width="0.35">SANGBA</text><rect x="809.5" y="1314" width="42" height="0.7" fill="#5aa05a"/><text x="831.5" y="1321.5" font-size="7" fill="#3a7a3a" text-anchor="middle" font-style="italic" font-family="'Liberation Serif',serif" font-weight="bold">Gas Sensor</text></g><g><rect x="925.2" y="1349" width="2.6" height="11" fill="#b89a58"/><rect x="932.2" y="1349" width="2.6" height="14" fill="#b89a58"/><rect x="952.2" y="1349" width="2.6" height="10" fill="#b89a58"/><rect x="959.2" y="1349" width="2.6" height="12" fill="#b89a58"/><rect x="917.5" y="1328" width="52" height="23" rx="2" fill="#dcdedc"/><rect x="921.5" y="1330" width="44" height="6" fill="#6a6e6a" opacity="0.8"/><rect x="924.5" y="1336" width="38" height="9" fill="#8a8e8a" opacity="0.55"/><rect x="928.5" y="1332" width="3" height="16" fill="#c0a060" opacity="0.7"/><rect x="952.5" y="1332" width="3" height="16" fill="#c0a060" opacity="0.7"/><ellipse cx="943.5" cy="1350.5" rx="26.0" ry="2.2" fill="#e4e6e4"/><rect x="916.5" y="1292" width="54" height="37" fill="url(#sgbody)"/><ellipse cx="943.5" cy="1293" rx="27.0" ry="4" fill="#dadada"/><ellipse cx="943.5" cy="1293.2" rx="23.0" ry="3" fill="#222"/><ellipse cx="943.5" cy="1292.6" rx="20.5" ry="2" fill="#bdbdbd"/><text x="943.5" y="1311.5" font-size="10" fill="#2f8f3a" text-anchor="middle" font-family="'Liberation Sans',sans-serif" textLength="45" lengthAdjust="spacingAndGlyphs" stroke="#2f8f3a" stroke-width="0.35">SANGBA</text><rect x="922.5" y="1314" width="42" height="0.7" fill="#5aa05a"/><text x="944.5" y="1321.5" font-size="7" fill="#3a7a3a" text-anchor="middle" font-style="italic" font-family="'Liberation Serif',serif" font-weight="bold">Gas Sensor</text></g><g><rect x="1040" y="1230" width="39.5" height="139.5" fill="#f9f9f9"/><rect x="1053.5" y="1278" width="10.5" height="81" fill="url(#rod)"/><ellipse cx="1058.8" cy="1361.5" rx="13.8" ry="5" fill="#b8b8b8"/><rect x="1052" y="1355" width="13.5" height="5" fill="#c8c8c8"/><path d="M1053,1251 L1058.3,1233 L1064,1251 Z" fill="url(#rod)"/><rect x="1043.5" y="1252" width="30" height="27.5" rx="7" fill="#0e0e0e"/></g><g><defs><linearGradient id="wsr" x1="0" y1="0" x2="1" y2="0"><stop offset="0" stop-color="#e6e8e8"/><stop offset="0.35" stop-color="#fafafa"/><stop offset="1" stop-color="#d8dada"/></linearGradient></defs><path d="M159,1350 L196,1339 L224,1343 L224,1350 L190,1362 L166,1361 Z" fill="#eceeee"/><path d="M166,1361 L190,1362 L224,1350 L224,1352 L190,1364 L166,1363 Z" fill="#d0d2d2"/><rect x="161" y="1330" width="4" height="22" fill="#e2e4e4"/><rect x="176" y="1330" width="4" height="25" fill="#d6d8d8"/><rect x="196" y="1330" width="4.5" height="24" fill="#cfd1d1"/><path d="M170,1352 l6,-3 l8,2 l-6,3 z" fill="#444" opacity="0.5"/><path d="M156,1279 Q180,1274 206,1278 L207,1289 Q181,1285 155,1290 Z" fill="url(#wsr)"/><path d="M155,1290 Q181,1285 207,1289 L207,1291 Q181,1287 155,1292 Z" fill="#cdd0d0"/><path d="M156,1292 Q180,1287 206,1291 L207,1302 Q181,1298 155,1303 Z" fill="url(#wsr)"/><path d="M155,1303 Q181,1298 207,1302 L207,1304 Q181,1300 155,1305 Z" fill="#cdd0d0"/><path d="M156,1305 Q180,1300 206,1304 L207,1315 Q181,1311 155,1316 Z" fill="url(#wsr)"/><path d="M155,1316 Q181,1311 207,1315 L207,1317 Q181,1313 155,1318 Z" fill="#cdd0d0"/><path d="M156,1318 Q180,1313 206,1317 L207,1328 Q181,1324 155,1329 Z" fill="url(#wsr)"/><path d="M155,1329 Q181,1324 207,1328 L207,1330 Q181,1326 155,1331 Z" fill="#cdd0d0"/><rect x="163" y="1269" width="35" height="10" fill="#e8eaea"/><rect x="170" y="1269" width="3" height="10" fill="#c6c8c8"/><rect x="183" y="1270" width="5" height="9" fill="#cacccc"/><rect x="192" y="1269" width="3" height="10" fill="#c6c8c8"/><path d="M160,1256 Q180,1252 200,1254 L200,1269 Q180,1267 160,1270 Z" fill="url(#wsr)"/><path d="M160,1270 Q180,1267 200,1269 L200,1271 Q180,1269 160,1272 Z" fill="#d4d6d6"/></g><g><rect x="278" y="1277" width="94" height="28" fill="#f0f0f0"/><rect x="293" y="1301" width="19" height="3.5" rx="1.5" fill="#333"/><rect x="355" y="1301" width="7" height="3.5" rx="1.5" fill="#333"/><rect x="311.5" y="1286" width="44" height="57" fill="url(#dustbox)" stroke="#b8b8b8" stroke-width="0.6"/><circle cx="315" cy="1290" r="1.3" fill="#222"/><circle cx="352" cy="1290" r="1.3" fill="#222"/><circle cx="315" cy="1340" r="1.3" fill="#222"/><circle cx="351" cy="1340" r="1.3" fill="#222"/><circle cx="333" cy="1290" r="1.6" fill="#f4f4f4" stroke="#999" stroke-width="0.5"/><circle cx="333" cy="1340" r="1.6" fill="#666"/></g>
<g id="wm"><g stroke="rgba(0,0,0,0.2)" stroke-width="1.2"><line x1="-101.6" y1="-31.7" x2="-33.5" y2="36.1"/><line x1="-89.6" y1="-69.2" x2="-45.5" y2="-113.2"/><line x1="-98.1" y1="151.5" x2="-30.0" y2="219.3"/><line x1="-86.1" y1="114.0" x2="-42.0" y2="70.0"/><line x1="-94.6" y1="334.7" x2="-26.5" y2="402.5"/><line x1="-82.6" y1="297.2" x2="-38.5" y2="253.2"/><line x1="-91.1" y1="517.9" x2="-23.0" y2="585.7"/><line x1="-79.1" y1="480.4" x2="-35.0" y2="436.4"/><line x1="-87.6" y1="701.1" x2="-19.5" y2="768.9"/><line x1="-75.6" y1="663.6" x2="-31.5" y2="619.6"/><line x1="-84.1" y1="884.3" x2="-16.0" y2="952.1"/><line x1="-72.1" y1="846.8" x2="-28.0" y2="802.8"/><line x1="-80.6" y1="1067.5" x2="-12.5" y2="1135.3"/><line x1="-68.6" y1="1030.0" x2="-24.5" y2="986.0"/><line x1="-77.1" y1="1250.7" x2="-9.0" y2="1318.5"/><line x1="-65.1" y1="1213.2" x2="-21.0" y2="1169.2"/><line x1="-73.6" y1="1433.9" x2="-5.5" y2="1501.7"/><line x1="-61.6" y1="1396.4" x2="-17.5" y2="1352.4"/><line x1="-70.1" y1="1617.1" x2="-2.0" y2="1684.9"/><line x1="-58.1" y1="1579.6" x2="-14.0" y2="1535.6"/><line x1="82.0" y1="-28.4" x2="150.1" y2="39.4"/><line x1="94.0" y1="-65.9" x2="138.1" y2="-109.9"/><line x1="-8.1" y1="61.5" x2="60.0" y2="129.3"/><line x1="4.0" y1="24.1" x2="48.0" y2="-19.9"/><line x1="85.5" y1="154.8" x2="153.6" y2="222.6"/><line x1="97.5" y1="117.3" x2="141.6" y2="73.3"/><line x1="-4.6" y1="244.7" x2="63.5" y2="312.5"/><line x1="7.5" y1="207.3" x2="51.5" y2="163.3"/><line x1="89.0" y1="338.0" x2="157.1" y2="405.8"/><line x1="101.0" y1="300.5" x2="145.1" y2="256.5"/><line x1="-1.1" y1="427.9" x2="67.0" y2="495.7"/><line x1="11.0" y1="390.5" x2="55.0" y2="346.5"/><line x1="92.5" y1="521.2" x2="160.6" y2="589.0"/><line x1="104.5" y1="483.7" x2="148.6" y2="439.7"/><line x1="2.4" y1="611.1" x2="70.5" y2="678.9"/><line x1="14.5" y1="573.7" x2="58.5" y2="529.7"/><line x1="96.0" y1="704.4" x2="164.1" y2="772.2"/><line x1="108.0" y1="666.9" x2="152.1" y2="622.9"/><line x1="5.9" y1="794.3" x2="74.0" y2="862.1"/><line x1="18.0" y1="756.9" x2="62.0" y2="712.9"/><line x1="99.5" y1="887.6" x2="167.6" y2="955.4"/><line x1="111.5" y1="850.1" x2="155.6" y2="806.1"/><line x1="9.4" y1="977.5" x2="77.5" y2="1045.3"/><line x1="21.5" y1="940.1" x2="65.5" y2="896.1"/><line x1="103.0" y1="1070.8" x2="171.1" y2="1138.6"/><line x1="115.0" y1="1033.3" x2="159.1" y2="989.3"/><line x1="12.9" y1="1160.7" x2="81.0" y2="1228.5"/><line x1="25.0" y1="1123.3" x2="69.0" y2="1079.3"/><line x1="106.5" y1="1254.0" x2="174.6" y2="1321.8"/><line x1="118.5" y1="1216.5" x2="162.6" y2="1172.5"/><line x1="16.4" y1="1343.9" x2="84.5" y2="1411.7"/><line x1="28.5" y1="1306.5" x2="72.5" y2="1262.5"/><line x1="110.0" y1="1437.2" x2="178.1" y2="1505.0"/><line x1="122.0" y1="1399.7" x2="166.1" y2="1355.7"/><line x1="19.9" y1="1527.1" x2="88.0" y2="1594.9"/><line x1="32.0" y1="1489.7" x2="76.0" y2="1445.7"/><line x1="113.5" y1="1620.4" x2="181.6" y2="1688.2"/><line x1="125.5" y1="1582.9" x2="169.6" y2="1538.9"/><line x1="265.6" y1="-25.1" x2="333.7" y2="42.7"/><line x1="277.6" y1="-62.6" x2="321.7" y2="-106.6"/><line x1="175.5" y1="64.8" x2="243.6" y2="132.6"/><line x1="187.6" y1="27.4" x2="231.6" y2="-16.6"/><line x1="269.1" y1="158.1" x2="337.2" y2="225.9"/><line x1="281.1" y1="120.6" x2="325.2" y2="76.6"/><line x1="179.0" y1="248.0" x2="247.1" y2="315.8"/><line x1="191.1" y1="210.6" x2="235.1" y2="166.6"/><line x1="272.6" y1="341.3" x2="340.7" y2="409.1"/><line x1="284.6" y1="303.8" x2="328.7" y2="259.8"/><line x1="182.5" y1="431.2" x2="250.6" y2="499.0"/><line x1="194.6" y1="393.8" x2="238.6" y2="349.8"/><line x1="276.1" y1="524.5" x2="344.2" y2="592.3"/><line x1="288.1" y1="487.0" x2="332.2" y2="443.0"/><line x1="186.0" y1="614.4" x2="254.1" y2="682.2"/><line x1="198.1" y1="577.0" x2="242.1" y2="533.0"/><line x1="279.6" y1="707.7" x2="347.7" y2="775.5"/><line x1="291.6" y1="670.2" x2="335.7" y2="626.2"/><line x1="189.5" y1="797.6" x2="257.6" y2="865.4"/><line x1="201.6" y1="760.2" x2="245.6" y2="716.2"/><line x1="283.1" y1="890.9" x2="351.2" y2="958.7"/><line x1="295.1" y1="853.4" x2="339.2" y2="809.4"/><line x1="193.0" y1="980.8" x2="261.1" y2="1048.6"/><line x1="205.1" y1="943.4" x2="249.1" y2="899.4"/><line x1="286.6" y1="1074.1" x2="354.7" y2="1141.9"/><line x1="298.6" y1="1036.6" x2="342.7" y2="992.6"/><line x1="196.5" y1="1164.0" x2="264.6" y2="1231.8"/><line x1="208.6" y1="1126.6" x2="252.6" y2="1082.6"/><line x1="290.1" y1="1257.3" x2="358.2" y2="1325.1"/><line x1="302.1" y1="1219.8" x2="346.2" y2="1175.8"/><line x1="200.0" y1="1347.2" x2="268.1" y2="1415.0"/><line x1="212.1" y1="1309.8" x2="256.1" y2="1265.8"/><line x1="293.6" y1="1440.5" x2="361.7" y2="1508.3"/><line x1="305.6" y1="1403.0" x2="349.7" y2="1359.0"/><line x1="203.5" y1="1530.4" x2="271.6" y2="1598.2"/><line x1="215.6" y1="1493.0" x2="259.6" y2="1449.0"/><line x1="297.1" y1="1623.7" x2="365.2" y2="1691.5"/><line x1="309.1" y1="1586.2" x2="353.2" y2="1542.2"/><line x1="449.2" y1="-21.8" x2="517.3" y2="46.0"/><line x1="461.2" y1="-59.3" x2="505.3" y2="-103.3"/><line x1="359.1" y1="68.1" x2="427.2" y2="135.9"/><line x1="371.2" y1="30.7" x2="415.2" y2="-13.3"/><line x1="452.7" y1="161.4" x2="520.8" y2="229.2"/><line x1="464.7" y1="123.9" x2="508.8" y2="79.9"/><line x1="362.6" y1="251.3" x2="430.7" y2="319.1"/><line x1="374.7" y1="213.9" x2="418.7" y2="169.9"/><line x1="456.2" y1="344.6" x2="524.3" y2="412.4"/><line x1="468.2" y1="307.1" x2="512.3" y2="263.1"/><line x1="366.1" y1="434.5" x2="434.2" y2="502.3"/><line x1="378.2" y1="397.1" x2="422.2" y2="353.1"/><line x1="459.7" y1="527.8" x2="527.8" y2="595.6"/><line x1="471.7" y1="490.3" x2="515.8" y2="446.3"/><line x1="369.6" y1="617.7" x2="437.7" y2="685.5"/><line x1="381.7" y1="580.3" x2="425.7" y2="536.3"/><line x1="463.2" y1="711.0" x2="531.3" y2="778.8"/><line x1="475.2" y1="673.5" x2="519.3" y2="629.5"/><line x1="373.1" y1="800.9" x2="441.2" y2="868.7"/><line x1="385.2" y1="763.5" x2="429.2" y2="719.5"/><line x1="466.7" y1="894.2" x2="534.8" y2="962.0"/><line x1="478.7" y1="856.7" x2="522.8" y2="812.7"/><line x1="376.6" y1="984.1" x2="444.7" y2="1051.9"/><line x1="388.7" y1="946.7" x2="432.7" y2="902.7"/><line x1="470.2" y1="1077.4" x2="538.3" y2="1145.2"/><line x1="482.2" y1="1039.9" x2="526.3" y2="995.9"/><line x1="380.1" y1="1167.3" x2="448.2" y2="1235.1"/><line x1="392.2" y1="1129.9" x2="436.2" y2="1085.9"/><line x1="473.7" y1="1260.6" x2="541.8" y2="1328.4"/><line x1="485.7" y1="1223.1" x2="529.8" y2="1179.1"/><line x1="383.6" y1="1350.5" x2="451.7" y2="1418.3"/><line x1="395.7" y1="1313.1" x2="439.7" y2="1269.1"/><line x1="477.2" y1="1443.8" x2="545.3" y2="1511.6"/><line x1="489.2" y1="1406.3" x2="533.3" y2="1362.3"/><line x1="387.1" y1="1533.7" x2="455.2" y2="1601.5"/><line x1="399.2" y1="1496.3" x2="443.2" y2="1452.3"/><line x1="480.7" y1="1627.0" x2="548.8" y2="1694.8"/><line x1="492.7" y1="1589.5" x2="536.8" y2="1545.5"/><line x1="632.8" y1="-18.5" x2="700.9" y2="49.3"/><line x1="644.8" y1="-56.0" x2="688.9" y2="-100.0"/><line x1="542.7" y1="71.4" x2="610.8" y2="139.2"/><line x1="554.8" y1="34.0" x2="598.8" y2="-10.0"/><line x1="636.3" y1="164.7" x2="704.4" y2="232.5"/><line x1="648.3" y1="127.2" x2="692.4" y2="83.2"/><line x1="546.2" y1="254.6" x2="614.3" y2="322.4"/><line x1="558.3" y1="217.2" x2="602.3" y2="173.2"/><line x1="639.8" y1="347.9" x2="707.9" y2="415.7"/><line x1="651.8" y1="310.4" x2="695.9" y2="266.4"/><line x1="549.7" y1="437.8" x2="617.8" y2="505.6"/><line x1="561.8" y1="400.4" x2="605.8" y2="356.4"/><line x1="643.3" y1="531.1" x2="711.4" y2="598.9"/><line x1="655.3" y1="493.6" x2="699.4" y2="449.6"/><line x1="553.2" y1="621.0" x2="621.3" y2="688.8"/><line x1="565.3" y1="583.6" x2="609.3" y2="539.6"/><line x1="646.8" y1="714.3" x2="714.9" y2="782.1"/><line x1="658.8" y1="676.8" x2="702.9" y2="632.8"/><line x1="556.7" y1="804.2" x2="624.8" y2="872.0"/><line x1="568.8" y1="766.8" x2="612.8" y2="722.8"/><line x1="650.3" y1="897.5" x2="718.4" y2="965.3"/><line x1="662.3" y1="860.0" x2="706.4" y2="816.0"/><line x1="560.2" y1="987.4" x2="628.3" y2="1055.2"/><line x1="572.3" y1="950.0" x2="616.3" y2="906.0"/><line x1="653.8" y1="1080.7" x2="721.9" y2="1148.5"/><line x1="665.8" y1="1043.2" x2="709.9" y2="999.2"/><line x1="563.7" y1="1170.6" x2="631.8" y2="1238.4"/><line x1="575.8" y1="1133.2" x2="619.8" y2="1089.2"/><line x1="657.3" y1="1263.9" x2="725.4" y2="1331.7"/><line x1="669.3" y1="1226.4" x2="713.4" y2="1182.4"/><line x1="567.2" y1="1353.8" x2="635.3" y2="1421.6"/><line x1="579.3" y1="1316.4" x2="623.3" y2="1272.4"/><line x1="660.8" y1="1447.1" x2="728.9" y2="1514.9"/><line x1="672.8" y1="1409.6" x2="716.9" y2="1365.6"/><line x1="570.7" y1="1537.0" x2="638.8" y2="1604.8"/><line x1="582.8" y1="1499.6" x2="626.8" y2="1455.6"/><line x1="664.3" y1="1630.3" x2="732.4" y2="1698.1"/><line x1="676.3" y1="1592.8" x2="720.4" y2="1548.8"/><line x1="816.4" y1="-15.2" x2="884.5" y2="52.6"/><line x1="828.4" y1="-52.7" x2="872.5" y2="-96.7"/><line x1="726.3" y1="74.7" x2="794.4" y2="142.5"/><line x1="738.4" y1="37.3" x2="782.4" y2="-6.7"/><line x1="819.9" y1="168.0" x2="888.0" y2="235.8"/><line x1="831.9" y1="130.5" x2="876.0" y2="86.5"/><line x1="729.8" y1="257.9" x2="797.9" y2="325.7"/><line x1="741.9" y1="220.5" x2="785.9" y2="176.5"/><line x1="823.4" y1="351.2" x2="891.5" y2="419.0"/><line x1="835.4" y1="313.7" x2="879.5" y2="269.7"/><line x1="733.3" y1="441.1" x2="801.4" y2="508.9"/><line x1="745.4" y1="403.7" x2="789.4" y2="359.7"/><line x1="826.9" y1="534.4" x2="895.0" y2="602.2"/><line x1="838.9" y1="496.9" x2="883.0" y2="452.9"/><line x1="736.8" y1="624.3" x2="804.9" y2="692.1"/><line x1="748.9" y1="586.9" x2="792.9" y2="542.9"/><line x1="830.4" y1="717.6" x2="898.5" y2="785.4"/><line x1="842.4" y1="680.1" x2="886.5" y2="636.1"/><line x1="740.3" y1="807.5" x2="808.4" y2="875.3"/><line x1="752.4" y1="770.1" x2="796.4" y2="726.1"/><line x1="833.9" y1="900.8" x2="902.0" y2="968.6"/><line x1="845.9" y1="863.3" x2="890.0" y2="819.3"/><line x1="743.8" y1="990.7" x2="811.9" y2="1058.5"/><line x1="755.9" y1="953.3" x2="799.9" y2="909.3"/><line x1="837.4" y1="1084.0" x2="905.5" y2="1151.8"/><line x1="849.4" y1="1046.5" x2="893.5" y2="1002.5"/><line x1="747.3" y1="1173.9" x2="815.4" y2="1241.7"/><line x1="759.4" y1="1136.5" x2="803.4" y2="1092.5"/><line x1="840.9" y1="1267.2" x2="909.0" y2="1335.0"/><line x1="852.9" y1="1229.7" x2="897.0" y2="1185.7"/><line x1="750.8" y1="1357.1" x2="818.9" y2="1424.9"/><line x1="762.9" y1="1319.7" x2="806.9" y2="1275.7"/><line x1="844.4" y1="1450.4" x2="912.5" y2="1518.2"/><line x1="856.4" y1="1412.9" x2="900.5" y2="1368.9"/><line x1="754.3" y1="1540.3" x2="822.4" y2="1608.1"/><line x1="766.4" y1="1502.9" x2="810.4" y2="1458.9"/><line x1="847.9" y1="1633.6" x2="916.0" y2="1701.4"/><line x1="859.9" y1="1596.1" x2="904.0" y2="1552.1"/><line x1="906.4" y1="-105.2" x2="974.5" y2="-37.4"/><line x1="918.5" y1="-142.6" x2="962.5" y2="-186.6"/><line x1="1000.0" y1="-11.9" x2="1068.1" y2="55.9"/><line x1="1012.0" y1="-49.4" x2="1056.1" y2="-93.4"/><line x1="909.9" y1="78.0" x2="978.0" y2="145.8"/><line x1="922.0" y1="40.6" x2="966.0" y2="-3.4"/><line x1="1003.5" y1="171.3" x2="1071.6" y2="239.1"/><line x1="1015.5" y1="133.8" x2="1059.6" y2="89.8"/><line x1="913.4" y1="261.2" x2="981.5" y2="329.0"/><line x1="925.5" y1="223.8" x2="969.5" y2="179.8"/><line x1="1007.0" y1="354.5" x2="1075.1" y2="422.3"/><line x1="1019.0" y1="317.0" x2="1063.1" y2="273.0"/><line x1="916.9" y1="444.4" x2="985.0" y2="512.2"/><line x1="929.0" y1="407.0" x2="973.0" y2="363.0"/><line x1="1010.5" y1="537.7" x2="1078.6" y2="605.5"/><line x1="1022.5" y1="500.2" x2="1066.6" y2="456.2"/><line x1="920.4" y1="627.6" x2="988.5" y2="695.4"/><line x1="932.5" y1="590.2" x2="976.5" y2="546.2"/><line x1="1014.0" y1="720.9" x2="1082.1" y2="788.7"/><line x1="1026.0" y1="683.4" x2="1070.1" y2="639.4"/><line x1="923.9" y1="810.8" x2="992.0" y2="878.6"/><line x1="936.0" y1="773.4" x2="980.0" y2="729.4"/><line x1="1017.5" y1="904.1" x2="1085.6" y2="971.9"/><line x1="1029.5" y1="866.6" x2="1073.6" y2="822.6"/><line x1="927.4" y1="994.0" x2="995.5" y2="1061.8"/><line x1="939.5" y1="956.6" x2="983.5" y2="912.6"/><line x1="1021.0" y1="1087.3" x2="1089.1" y2="1155.1"/><line x1="1033.0" y1="1049.8" x2="1077.1" y2="1005.8"/><line x1="930.9" y1="1177.2" x2="999.0" y2="1245.0"/><line x1="943.0" y1="1139.8" x2="987.0" y2="1095.8"/><line x1="1024.5" y1="1270.5" x2="1092.6" y2="1338.3"/><line x1="1036.5" y1="1233.0" x2="1080.6" y2="1189.0"/><line x1="934.4" y1="1360.4" x2="1002.5" y2="1428.2"/><line x1="946.5" y1="1323.0" x2="990.5" y2="1279.0"/><line x1="1028.0" y1="1453.7" x2="1096.1" y2="1521.5"/><line x1="1040.0" y1="1416.2" x2="1084.1" y2="1372.2"/><line x1="937.9" y1="1543.6" x2="1006.0" y2="1611.4"/><line x1="950.0" y1="1506.2" x2="994.0" y2="1462.2"/><line x1="1031.5" y1="1636.9" x2="1099.6" y2="1704.7"/><line x1="1043.5" y1="1599.4" x2="1087.6" y2="1555.4"/><line x1="1090.0" y1="-101.9" x2="1158.1" y2="-34.1"/><line x1="1102.1" y1="-139.3" x2="1146.1" y2="-183.3"/><line x1="1183.6" y1="-8.6" x2="1251.7" y2="59.2"/><line x1="1195.6" y1="-46.1" x2="1239.7" y2="-90.1"/><line x1="1093.5" y1="81.3" x2="1161.6" y2="149.1"/><line x1="1105.6" y1="43.9" x2="1149.6" y2="-0.1"/><line x1="1187.1" y1="174.6" x2="1255.2" y2="242.4"/><line x1="1199.1" y1="137.1" x2="1243.2" y2="93.1"/><line x1="1097.0" y1="264.5" x2="1165.1" y2="332.3"/><line x1="1109.1" y1="227.1" x2="1153.1" y2="183.1"/><line x1="1190.6" y1="357.8" x2="1258.7" y2="425.6"/><line x1="1202.6" y1="320.3" x2="1246.7" y2="276.3"/><line x1="1100.5" y1="447.7" x2="1168.6" y2="515.5"/><line x1="1112.6" y1="410.3" x2="1156.6" y2="366.3"/><line x1="1194.1" y1="541.0" x2="1262.2" y2="608.8"/><line x1="1206.1" y1="503.5" x2="1250.2" y2="459.5"/><line x1="1104.0" y1="630.9" x2="1172.1" y2="698.7"/><line x1="1116.1" y1="593.5" x2="1160.1" y2="549.5"/><line x1="1197.6" y1="724.2" x2="1265.7" y2="792.0"/><line x1="1209.6" y1="686.7" x2="1253.7" y2="642.7"/><line x1="1107.5" y1="814.1" x2="1175.6" y2="881.9"/><line x1="1119.6" y1="776.7" x2="1163.6" y2="732.7"/><line x1="1201.1" y1="907.4" x2="1269.2" y2="975.2"/><line x1="1213.1" y1="869.9" x2="1257.2" y2="825.9"/><line x1="1111.0" y1="997.3" x2="1179.1" y2="1065.1"/><line x1="1123.1" y1="959.9" x2="1167.1" y2="915.9"/><line x1="1204.6" y1="1090.6" x2="1272.7" y2="1158.4"/><line x1="1216.6" y1="1053.1" x2="1260.7" y2="1009.1"/><line x1="1114.5" y1="1180.5" x2="1182.6" y2="1248.3"/><line x1="1126.6" y1="1143.1" x2="1170.6" y2="1099.1"/><line x1="1208.1" y1="1273.8" x2="1276.2" y2="1341.6"/><line x1="1220.1" y1="1236.3" x2="1264.2" y2="1192.3"/><line x1="1118.0" y1="1363.7" x2="1186.1" y2="1431.5"/><line x1="1130.1" y1="1326.3" x2="1174.1" y2="1282.3"/><line x1="1211.6" y1="1457.0" x2="1279.7" y2="1524.8"/><line x1="1223.6" y1="1419.5" x2="1267.7" y2="1375.5"/><line x1="1121.5" y1="1546.9" x2="1189.6" y2="1614.7"/><line x1="1133.6" y1="1509.5" x2="1177.6" y2="1465.5"/><line x1="1273.6" y1="-98.6" x2="1341.7" y2="-30.8"/><line x1="1285.7" y1="-136.0" x2="1329.7" y2="-180.0"/><line x1="1277.1" y1="84.6" x2="1345.2" y2="152.4"/><line x1="1289.2" y1="47.2" x2="1333.2" y2="3.2"/><line x1="1280.6" y1="267.8" x2="1348.7" y2="335.6"/><line x1="1292.7" y1="230.4" x2="1336.7" y2="186.4"/><line x1="1284.1" y1="451.0" x2="1352.2" y2="518.8"/><line x1="1296.2" y1="413.6" x2="1340.2" y2="369.6"/><line x1="1287.6" y1="634.2" x2="1355.7" y2="702.0"/><line x1="1299.7" y1="596.8" x2="1343.7" y2="552.8"/><line x1="1291.1" y1="817.4" x2="1359.2" y2="885.2"/><line x1="1303.2" y1="780.0" x2="1347.2" y2="736.0"/><line x1="1294.6" y1="1000.6" x2="1362.7" y2="1068.4"/><line x1="1306.7" y1="963.2" x2="1350.7" y2="919.2"/><line x1="1298.1" y1="1183.8" x2="1366.2" y2="1251.6"/><line x1="1310.2" y1="1146.4" x2="1354.2" y2="1102.4"/><line x1="1301.6" y1="1367.0" x2="1369.7" y2="1434.8"/><line x1="1313.7" y1="1329.6" x2="1357.7" y2="1285.6"/><line x1="1305.1" y1="1550.2" x2="1373.2" y2="1618.0"/><line x1="1317.2" y1="1512.8" x2="1361.2" y2="1468.8"/></g><text x="-114.3" y="-44.4" transform="rotate(-45 -114.3 -44.4)" font-size="16" fill="rgba(0,0,0,0.22)" text-anchor="middle" dominant-baseline="central" font-family="'Liberation Sans',sans-serif" font-weight="300">南宁迈世</text><text x="-110.8" y="138.8" transform="rotate(-45 -110.8 138.8)" font-size="16" fill="rgba(0,0,0,0.22)" text-anchor="middle" dominant-baseline="central" font-family="'Liberation Sans',sans-serif" font-weight="300">南宁迈世</text><text x="-107.3" y="321.9" transform="rotate(-45 -107.3 321.9)" font-size="16" fill="rgba(0,0,0,0.22)" text-anchor="middle" dominant-baseline="central" font-family="'Liberation Sans',sans-serif" font-weight="300">南宁迈世</text><text x="-103.8" y="505.1" transform="rotate(-45 -103.8 505.1)" font-size="16" fill="rgba(0,0,0,0.22)" text-anchor="middle" dominant-baseline="central" font-family="'Liberation Sans',sans-serif" font-weight="300">南宁迈世</text><text x="-100.3" y="688.3" transform="rotate(-45 -100.3 688.3)" font-size="16" fill="rgba(0,0,0,0.22)" text-anchor="middle" dominant-baseline="central" font-family="'Liberation Sans',sans-serif" font-weight="300">南宁迈世</text><text x="-96.8" y="871.5" transform="rotate(-45 -96.8 871.5)" font-size="16" fill="rgba(0,0,0,0.22)" text-anchor="middle" dominant-baseline="central" font-family="'Liberation Sans',sans-serif" font-weight="300">南宁迈世</text><text x="-93.3" y="1054.8" transform="rotate(-45 -93.3 1054.8)" font-size="16" fill="rgba(0,0,0,0.22)" text-anchor="middle" dominant-baseline="central" font-family="'Liberation Sans',sans-serif" font-weight="300">南宁迈世</text><text x="-89.8" y="1238.0" transform="rotate(-45 -89.8 1238.0)" font-size="16" fill="rgba(0,0,0,0.22)" text-anchor="middle" dominant-baseline="central" font-family="'Liberation Sans',sans-serif" font-weight="300">南宁迈世</text><text x="-86.3" y="1421.2" transform="rotate(-45 -86.3 1421.2)" font-size="16" fill="rgba(0,0,0,0.22)" text-anchor="middle" dominant-baseline="central" font-family="'Liberation Sans',sans-serif" font-weight="300">南宁迈世</text><text x="-82.8" y="1604.3" transform="rotate(-45 -82.8 1604.3)" font-size="16" fill="rgba(0,0,0,0.22)" text-anchor="middle" dominant-baseline="central" font-family="'Liberation Sans',sans-serif" font-weight="300">南宁迈世</text><text x="69.3" y="-41.1" transform="rotate(-45 69.3 -41.1)" font-size="16" fill="rgba(0,0,0,0.22)" text-anchor="middle" dominant-baseline="central" font-family="'Liberation Sans',sans-serif" font-weight="300">南宁迈世</text><text x="-20.8" y="48.8" transform="rotate(-45 -20.8 48.8)" font-size="13.5" font-weight="bold" font-style="italic" fill="rgba(242,205,110,0.42)" stroke="rgba(242,205,110,0.3)" stroke-width="0.8" text-anchor="middle" dominant-baseline="central" font-family="'Liberation Sans',sans-serif" letter-spacing="0.5">OIIIARA</text><text x="72.8" y="142.1" transform="rotate(-45 72.8 142.1)" font-size="16" fill="rgba(0,0,0,0.22)" text-anchor="middle" dominant-baseline="central" font-family="'Liberation Sans',sans-serif" font-weight="300">南宁迈世</text><text x="-17.3" y="232.0" transform="rotate(-45 -17.3 232.0)" font-size="13.5" font-weight="bold" font-style="italic" fill="rgba(242,205,110,0.42)" stroke="rgba(242,205,110,0.3)" stroke-width="0.8" text-anchor="middle" dominant-baseline="central" font-family="'Liberation Sans',sans-serif" letter-spacing="0.5">OIIIARA</text><text x="76.3" y="325.2" transform="rotate(-45 76.3 325.2)" font-size="16" fill="rgba(0,0,0,0.22)" text-anchor="middle" dominant-baseline="central" font-family="'Liberation Sans',sans-serif" font-weight="300">南宁迈世</text><text x="-13.8" y="415.2" transform="rotate(-45 -13.8 415.2)" font-size="13.5" font-weight="bold" font-style="italic" fill="rgba(242,205,110,0.42)" stroke="rgba(242,205,110,0.3)" stroke-width="0.8" text-anchor="middle" dominant-baseline="central" font-family="'Liberation Sans',sans-serif" letter-spacing="0.5">OIIIARA</text><text x="79.8" y="508.4" transform="rotate(-45 79.8 508.4)" font-size="16" fill="rgba(0,0,0,0.22)" text-anchor="middle" dominant-baseline="central" font-family="'Liberation Sans',sans-serif" font-weight="300">南宁迈世</text><text x="-10.3" y="598.4" transform="rotate(-45 -10.3 598.4)" font-size="13.5" font-weight="bold" font-style="italic" fill="rgba(242,205,110,0.42)" stroke="rgba(242,205,110,0.3)" stroke-width="0.8" text-anchor="middle" dominant-baseline="central" font-family="'Liberation Sans',sans-serif" letter-spacing="0.5">OIIIARA</text><text x="83.3" y="691.6" transform="rotate(-45 83.3 691.6)" font-size="16" fill="rgba(0,0,0,0.22)" text-anchor="middle" dominant-baseline="central" font-family="'Liberation Sans',sans-serif" font-weight="300">南宁迈世</text><text x="-6.8" y="781.6" transform="rotate(-45 -6.8 781.6)" font-size="13.5" font-weight="bold" font-style="italic" fill="rgba(242,205,110,0.42)" stroke="rgba(242,205,110,0.3)" stroke-width="0.8" text-anchor="middle" dominant-baseline="central" font-family="'Liberation Sans',sans-serif" letter-spacing="0.5">OIIIARA</text><text x="86.8" y="874.9" transform="rotate(-45 86.8 874.9)" font-size="16" fill="rgba(0,0,0,0.22)" text-anchor="middle" dominant-baseline="central" font-family="'Liberation Sans',sans-serif" font-weight="300">南宁迈世</text><text x="-3.3" y="964.8" transform="rotate(-45 -3.3 964.8)" font-size="13.5" font-weight="bold" font-style="italic" fill="rgba(242,205,110,0.42)" stroke="rgba(242,205,110,0.3)" stroke-width="0.8" text-anchor="middle" dominant-baseline="central" font-family="'Liberation Sans',sans-serif" letter-spacing="0.5">OIIIARA</text><text x="90.3" y="1058.0" transform="rotate(-45 90.3 1058.0)" font-size="16" fill="rgba(0,0,0,0.22)" text-anchor="middle" dominant-baseline="central" font-family="'Liberation Sans',sans-serif" font-weight="300">南宁迈世</text><text x="0.2" y="1148.0" transform="rotate(-45 0.2 1148.0)" font-size="13.5" font-weight="bold" font-style="italic" fill="rgba(242,205,110,0.42)" stroke="rgba(242,205,110,0.3)" stroke-width="0.8" text-anchor="middle" dominant-baseline="central" font-family="'Liberation Sans',sans-serif" letter-spacing="0.5">OIIIARA</text><text x="93.8" y="1241.2" transform="rotate(-45 93.8 1241.2)" font-size="16" fill="rgba(0,0,0,0.22)" text-anchor="middle" dominant-baseline="central" font-family="'Liberation Sans',sans-serif" font-weight="300">南宁迈世</text><text x="3.7" y="1331.2" transform="rotate(-45 3.7 1331.2)" font-size="13.5" font-weight="bold" font-style="italic" fill="rgba(242,205,110,0.42)" stroke="rgba(242,205,110,0.3)" stroke-width="0.8" text-anchor="middle" dominant-baseline="central" font-family="'Liberation Sans',sans-serif" letter-spacing="0.5">OIIIARA</text><text x="97.3" y="1424.5" transform="rotate(-45 97.3 1424.5)" font-size="16" fill="rgba(0,0,0,0.22)" text-anchor="middle" dominant-baseline="central" font-family="'Liberation Sans',sans-serif" font-weight="300">南宁迈世</text><text x="7.2" y="1514.4" transform="rotate(-45 7.2 1514.4)" font-size="13.5" font-weight="bold" font-style="italic" fill="rgba(242,205,110,0.42)" stroke="rgba(242,205,110,0.3)" stroke-width="0.8" text-anchor="middle" dominant-baseline="central" font-family="'Liberation Sans',sans-serif" letter-spacing="0.5">OIIIARA</text><text x="100.8" y="1607.6" transform="rotate(-45 100.8 1607.6)" font-size="16" fill="rgba(0,0,0,0.22)" text-anchor="middle" dominant-baseline="central" font-family="'Liberation Sans',sans-serif" font-weight="300">南宁迈世</text><text x="252.9" y="-37.8" transform="rotate(-45 252.9 -37.8)" font-size="16" fill="rgba(0,0,0,0.22)" text-anchor="middle" dominant-baseline="central" font-family="'Liberation Sans',sans-serif" font-weight="300">南宁迈世</text><text x="162.8" y="52.1" transform="rotate(-45 162.8 52.1)" font-size="13.5" font-weight="bold" font-style="italic" fill="rgba(242,205,110,0.42)" stroke="rgba(242,205,110,0.3)" stroke-width="0.8" text-anchor="middle" dominant-baseline="central" font-family="'Liberation Sans',sans-serif" letter-spacing="0.5">OIIIARA</text><text x="256.4" y="145.3" transform="rotate(-45 256.4 145.3)" font-size="16" fill="rgba(0,0,0,0.22)" text-anchor="middle" dominant-baseline="central" font-family="'Liberation Sans',sans-serif" font-weight="300">南宁迈世</text><text x="166.3" y="235.3" transform="rotate(-45 166.3 235.3)" font-size="13.5" font-weight="bold" font-style="italic" fill="rgba(242,205,110,0.42)" stroke="rgba(242,205,110,0.3)" stroke-width="0.8" text-anchor="middle" dominant-baseline="central" font-family="'Liberation Sans',sans-serif" letter-spacing="0.5">OIIIARA</text><text x="259.9" y="328.5" transform="rotate(-45 259.9 328.5)" font-size="16" fill="rgba(0,0,0,0.22)" text-anchor="middle" dominant-baseline="central" font-family="'Liberation Sans',sans-serif" font-weight="300">南宁迈世</text><text x="169.8" y="418.5" transform="rotate(-45 169.8 418.5)" font-size="13.5" font-weight="bold" font-style="italic" fill="rgba(242,205,110,0.42)" stroke="rgba(242,205,110,0.3)" stroke-width="0.8" text-anchor="middle" dominant-baseline="central" font-family="'Liberation Sans',sans-serif" letter-spacing="0.5">OIIIARA</text><text x="263.4" y="511.8" transform="rotate(-45 263.4 511.8)" font-size="16" fill="rgba(0,0,0,0.22)" text-anchor="middle" dominant-baseline="central" font-family="'Liberation Sans',sans-serif" font-weight="300">南宁迈世</text><text x="173.3" y="601.7" transform="rotate(-45 173.3 601.7)" font-size="13.5" font-weight="bold" font-style="italic" fill="rgba(242,205,110,0.42)" stroke="rgba(242,205,110,0.3)" stroke-width="0.8" text-anchor="middle" dominant-baseline="central" font-family="'Liberation Sans',sans-serif" letter-spacing="0.5">OIIIARA</text><text x="266.9" y="694.9" transform="rotate(-45 266.9 694.9)" font-size="16" fill="rgba(0,0,0,0.22)" text-anchor="middle" dominant-baseline="central" font-family="'Liberation Sans',sans-serif" font-weight="300">南宁迈世</text><text x="176.8" y="784.9" transform="rotate(-45 176.8 784.9)" font-size="13.5" font-weight="bold" font-style="italic" fill="rgba(242,205,110,0.42)" stroke="rgba(242,205,110,0.3)" stroke-width="0.8" text-anchor="middle" dominant-baseline="central" font-family="'Liberation Sans',sans-serif" letter-spacing="0.5">OIIIARA</text><text x="270.4" y="878.1" transform="rotate(-45 270.4 878.1)" font-size="16" fill="rgba(0,0,0,0.22)" text-anchor="middle" dominant-baseline="central" font-family="'Liberation Sans',sans-serif" font-weight="300">南宁迈世</text><text x="180.3" y="968.1" transform="rotate(-45 180.3 968.1)" font-size="13.5" font-weight="bold" font-style="italic" fill="rgba(242,205,110,0.42)" stroke="rgba(242,205,110,0.3)" stroke-width="0.8" text-anchor="middle" dominant-baseline="central" font-family="'Liberation Sans',sans-serif" letter-spacing="0.5">OIIIARA</text><text x="273.9" y="1061.3" transform="rotate(-45 273.9 1061.3)" font-size="16" fill="rgba(0,0,0,0.22)" text-anchor="middle" dominant-baseline="central" font-family="'Liberation Sans',sans-serif" font-weight="300">南宁迈世</text><text x="183.8" y="1151.3" transform="rotate(-45 183.8 1151.3)" font-size="13.5" font-weight="bold" font-style="italic" fill="rgba(242,205,110,0.42)" stroke="rgba(242,205,110,0.3)" stroke-width="0.8" text-anchor="middle" dominant-baseline="central" font-family="'Liberation Sans',sans-serif" letter-spacing="0.5">OIIIARA</text><text x="277.4" y="1244.5" transform="rotate(-45 277.4 1244.5)" font-size="16" fill="rgba(0,0,0,0.22)" text-anchor="middle" dominant-baseline="central" font-family="'Liberation Sans',sans-serif" font-weight="300">南宁迈世</text><text x="187.3" y="1334.5" transform="rotate(-45 187.3 1334.5)" font-size="13.5" font-weight="bold" font-style="italic" fill="rgba(242,205,110,0.42)" stroke="rgba(242,205,110,0.3)" stroke-width="0.8" text-anchor="middle" dominant-baseline="central" font-family="'Liberation Sans',sans-serif" letter-spacing="0.5">OIIIARA</text><text x="280.9" y="1427.8" transform="rotate(-45 280.9 1427.8)" font-size="16" fill="rgba(0,0,0,0.22)" text-anchor="middle" dominant-baseline="central" font-family="'Liberation Sans',sans-serif" font-weight="300">南宁迈世</text><text x="190.8" y="1517.7" transform="rotate(-45 190.8 1517.7)" font-size="13.5" font-weight="bold" font-style="italic" fill="rgba(242,205,110,0.42)" stroke="rgba(242,205,110,0.3)" stroke-width="0.8" text-anchor="middle" dominant-baseline="central" font-family="'Liberation Sans',sans-serif" letter-spacing="0.5">OIIIARA</text><text x="284.4" y="1610.9" transform="rotate(-45 284.4 1610.9)" font-size="16" fill="rgba(0,0,0,0.22)" text-anchor="middle" dominant-baseline="central" font-family="'Liberation Sans',sans-serif" font-weight="300">南宁迈世</text><text x="436.4" y="-34.5" transform="rotate(-45 436.4 -34.5)" font-size="16" fill="rgba(0,0,0,0.22)" text-anchor="middle" dominant-baseline="central" font-family="'Liberation Sans',sans-serif" font-weight="300">南宁迈世</text><text x="346.4" y="55.4" transform="rotate(-45 346.4 55.4)" font-size="13.5" font-weight="bold" font-style="italic" fill="rgba(242,205,110,0.42)" stroke="rgba(242,205,110,0.3)" stroke-width="0.8" text-anchor="middle" dominant-baseline="central" font-family="'Liberation Sans',sans-serif" letter-spacing="0.5">OIIIARA</text><text x="439.9" y="148.6" transform="rotate(-45 439.9 148.6)" font-size="16" fill="rgba(0,0,0,0.22)" text-anchor="middle" dominant-baseline="central" font-family="'Liberation Sans',sans-serif" font-weight="300">南宁迈世</text><text x="349.9" y="238.6" transform="rotate(-45 349.9 238.6)" font-size="13.5" font-weight="bold" font-style="italic" fill="rgba(242,205,110,0.42)" stroke="rgba(242,205,110,0.3)" stroke-width="0.8" text-anchor="middle" dominant-baseline="central" font-family="'Liberation Sans',sans-serif" letter-spacing="0.5">OIIIARA</text><text x="443.4" y="331.8" transform="rotate(-45 443.4 331.8)" font-size="16" fill="rgba(0,0,0,0.22)" text-anchor="middle" dominant-baseline="central" font-family="'Liberation Sans',sans-serif" font-weight="300">南宁迈世</text><text x="353.4" y="421.8" transform="rotate(-45 353.4 421.8)" font-size="13.5" font-weight="bold" font-style="italic" fill="rgba(242,205,110,0.42)" stroke="rgba(242,205,110,0.3)" stroke-width="0.8" text-anchor="middle" dominant-baseline="central" font-family="'Liberation Sans',sans-serif" letter-spacing="0.5">OIIIARA</text><text x="446.9" y="515.0" transform="rotate(-45 446.9 515.0)" font-size="16" fill="rgba(0,0,0,0.22)" text-anchor="middle" dominant-baseline="central" font-family="'Liberation Sans',sans-serif" font-weight="300">南宁迈世</text><text x="356.9" y="605.0" transform="rotate(-45 356.9 605.0)" font-size="13.5" font-weight="bold" font-style="italic" fill="rgba(242,205,110,0.42)" stroke="rgba(242,205,110,0.3)" stroke-width="0.8" text-anchor="middle" dominant-baseline="central" font-family="'Liberation Sans',sans-serif" letter-spacing="0.5">OIIIARA</text><text x="450.4" y="698.2" transform="rotate(-45 450.4 698.2)" font-size="16" fill="rgba(0,0,0,0.22)" text-anchor="middle" dominant-baseline="central" font-family="'Liberation Sans',sans-serif" font-weight="300">南宁迈世</text><text x="360.4" y="788.2" transform="rotate(-45 360.4 788.2)" font-size="13.5" font-weight="bold" font-style="italic" fill="rgba(242,205,110,0.42)" stroke="rgba(242,205,110,0.3)" stroke-width="0.8" text-anchor="middle" dominant-baseline="central" font-family="'Liberation Sans',sans-serif" letter-spacing="0.5">OIIIARA</text><text x="453.9" y="881.4" transform="rotate(-45 453.9 881.4)" font-size="16" fill="rgba(0,0,0,0.22)" text-anchor="middle" dominant-baseline="central" font-family="'Liberation Sans',sans-serif" font-weight="300">南宁迈世</text><text x="363.9" y="971.4" transform="rotate(-45 363.9 971.4)" font-size="13.5" font-weight="bold" font-style="italic" fill="rgba(242,205,110,0.42)" stroke="rgba(242,205,110,0.3)" stroke-width="0.8" text-anchor="middle" dominant-baseline="central" font-family="'Liberation Sans',sans-serif" letter-spacing="0.5">OIIIARA</text><text x="457.4" y="1064.6" transform="rotate(-45 457.4 1064.6)" font-size="16" fill="rgba(0,0,0,0.22)" text-anchor="middle" dominant-baseline="central" font-family="'Liberation Sans',sans-serif" font-weight="300">南宁迈世</text><text x="367.4" y="1154.6" transform="rotate(-45 367.4 1154.6)" font-size="13.5" font-weight="bold" font-style="italic" fill="rgba(242,205,110,0.42)" stroke="rgba(242,205,110,0.3)" stroke-width="0.8" text-anchor="middle" dominant-baseline="central" font-family="'Liberation Sans',sans-serif" letter-spacing="0.5">OIIIARA</text><text x="460.9" y="1247.8" transform="rotate(-45 460.9 1247.8)" font-size="16" fill="rgba(0,0,0,0.22)" text-anchor="middle" dominant-baseline="central" font-family="'Liberation Sans',sans-serif" font-weight="300">南宁迈世</text><text x="370.9" y="1337.8" transform="rotate(-45 370.9 1337.8)" font-size="13.5" font-weight="bold" font-style="italic" fill="rgba(242,205,110,0.42)" stroke="rgba(242,205,110,0.3)" stroke-width="0.8" text-anchor="middle" dominant-baseline="central" font-family="'Liberation Sans',sans-serif" letter-spacing="0.5">OIIIARA</text><text x="464.4" y="1431.0" transform="rotate(-45 464.4 1431.0)" font-size="16" fill="rgba(0,0,0,0.22)" text-anchor="middle" dominant-baseline="central" font-family="'Liberation Sans',sans-serif" font-weight="300">南宁迈世</text><text x="374.4" y="1521.0" transform="rotate(-45 374.4 1521.0)" font-size="13.5" font-weight="bold" font-style="italic" fill="rgba(242,205,110,0.42)" stroke="rgba(242,205,110,0.3)" stroke-width="0.8" text-anchor="middle" dominant-baseline="central" font-family="'Liberation Sans',sans-serif" letter-spacing="0.5">OIIIARA</text><text x="467.9" y="1614.2" transform="rotate(-45 467.9 1614.2)" font-size="16" fill="rgba(0,0,0,0.22)" text-anchor="middle" dominant-baseline="central" font-family="'Liberation Sans',sans-serif" font-weight="300">南宁迈世</text><text x="620.0" y="-31.2" transform="rotate(-45 620.0 -31.2)" font-size="16" fill="rgba(0,0,0,0.22)" text-anchor="middle" dominant-baseline="central" font-family="'Liberation Sans',sans-serif" font-weight="300">南宁迈世</text><text x="530.0" y="58.7" transform="rotate(-45 530.0 58.7)" font-size="13.5" font-weight="bold" font-style="italic" fill="rgba(242,205,110,0.42)" stroke="rgba(242,205,110,0.3)" stroke-width="0.8" text-anchor="middle" dominant-baseline="central" font-family="'Liberation Sans',sans-serif" letter-spacing="0.5">OIIIARA</text><text x="623.5" y="151.9" transform="rotate(-45 623.5 151.9)" font-size="16" fill="rgba(0,0,0,0.22)" text-anchor="middle" dominant-baseline="central" font-family="'Liberation Sans',sans-serif" font-weight="300">南宁迈世</text><text x="533.5" y="241.9" transform="rotate(-45 533.5 241.9)" font-size="13.5" font-weight="bold" font-style="italic" fill="rgba(242,205,110,0.42)" stroke="rgba(242,205,110,0.3)" stroke-width="0.8" text-anchor="middle" dominant-baseline="central" font-family="'Liberation Sans',sans-serif" letter-spacing="0.5">OIIIARA</text><text x="627.0" y="335.1" transform="rotate(-45 627.0 335.1)" font-size="16" fill="rgba(0,0,0,0.22)" text-anchor="middle" dominant-baseline="central" font-family="'Liberation Sans',sans-serif" font-weight="300">南宁迈世</text><text x="537.0" y="425.1" transform="rotate(-45 537.0 425.1)" font-size="13.5" font-weight="bold" font-style="italic" fill="rgba(242,205,110,0.42)" stroke="rgba(242,205,110,0.3)" stroke-width="0.8" text-anchor="middle" dominant-baseline="central" font-family="'Liberation Sans',sans-serif" letter-spacing="0.5">OIIIARA</text><text x="630.5" y="518.4" transform="rotate(-45 630.5 518.4)" font-size="16" fill="rgba(0,0,0,0.22)" text-anchor="middle" dominant-baseline="central" font-family="'Liberation Sans',sans-serif" font-weight="300">南宁迈世</text><text x="540.5" y="608.3" transform="rotate(-45 540.5 608.3)" font-size="13.5" font-weight="bold" font-style="italic" fill="rgba(242,205,110,0.42)" stroke="rgba(242,205,110,0.3)" stroke-width="0.8" text-anchor="middle" dominant-baseline="central" font-family="'Liberation Sans',sans-serif" letter-spacing="0.5">OIIIARA</text><text x="634.0" y="701.5" transform="rotate(-45 634.0 701.5)" font-size="16" fill="rgba(0,0,0,0.22)" text-anchor="middle" dominant-baseline="central" font-family="'Liberation Sans',sans-serif" font-weight="300">南宁迈世</text><text x="544.0" y="791.5" transform="rotate(-45 544.0 791.5)" font-size="13.5" font-weight="bold" font-style="italic" fill="rgba(242,205,110,0.42)" stroke="rgba(242,205,110,0.3)" stroke-width="0.8" text-anchor="middle" dominant-baseline="central" font-family="'Liberation Sans',sans-serif" letter-spacing="0.5">OIIIARA</text><text x="637.5" y="884.8" transform="rotate(-45 637.5 884.8)" font-size="16" fill="rgba(0,0,0,0.22)" text-anchor="middle" dominant-baseline="central" font-family="'Liberation Sans',sans-serif" font-weight="300">南宁迈世</text><text x="547.5" y="974.7" transform="rotate(-45 547.5 974.7)" font-size="13.5" font-weight="bold" font-style="italic" fill="rgba(242,205,110,0.42)" stroke="rgba(242,205,110,0.3)" stroke-width="0.8" text-anchor="middle" dominant-baseline="central" font-family="'Liberation Sans',sans-serif" letter-spacing="0.5">OIIIARA</text><text x="641.0" y="1067.9" transform="rotate(-45 641.0 1067.9)" font-size="16" fill="rgba(0,0,0,0.22)" text-anchor="middle" dominant-baseline="central" font-family="'Liberation Sans',sans-serif" font-weight="300">南宁迈世</text><text x="551.0" y="1157.9" transform="rotate(-45 551.0 1157.9)" font-size="13.5" font-weight="bold" font-style="italic" fill="rgba(242,205,110,0.42)" stroke="rgba(242,205,110,0.3)" stroke-width="0.8" text-anchor="middle" dominant-baseline="central" font-family="'Liberation Sans',sans-serif" letter-spacing="0.5">OIIIARA</text><text x="644.5" y="1251.1" transform="rotate(-45 644.5 1251.1)" font-size="16" fill="rgba(0,0,0,0.22)" text-anchor="middle" dominant-baseline="central" font-family="'Liberation Sans',sans-serif" font-weight="300">南宁迈世</text><text x="554.5" y="1341.1" transform="rotate(-45 554.5 1341.1)" font-size="13.5" font-weight="bold" font-style="italic" fill="rgba(242,205,110,0.42)" stroke="rgba(242,205,110,0.3)" stroke-width="0.8" text-anchor="middle" dominant-baseline="central" font-family="'Liberation Sans',sans-serif" letter-spacing="0.5">OIIIARA</text><text x="648.0" y="1434.3" transform="rotate(-45 648.0 1434.3)" font-size="16" fill="rgba(0,0,0,0.22)" text-anchor="middle" dominant-baseline="central" font-family="'Liberation Sans',sans-serif" font-weight="300">南宁迈世</text><text x="558.0" y="1524.3" transform="rotate(-45 558.0 1524.3)" font-size="13.5" font-weight="bold" font-style="italic" fill="rgba(242,205,110,0.42)" stroke="rgba(242,205,110,0.3)" stroke-width="0.8" text-anchor="middle" dominant-baseline="central" font-family="'Liberation Sans',sans-serif" letter-spacing="0.5">OIIIARA</text><text x="651.5" y="1617.5" transform="rotate(-45 651.5 1617.5)" font-size="16" fill="rgba(0,0,0,0.22)" text-anchor="middle" dominant-baseline="central" font-family="'Liberation Sans',sans-serif" font-weight="300">南宁迈世</text><text x="803.7" y="-27.9" transform="rotate(-45 803.7 -27.9)" font-size="16" fill="rgba(0,0,0,0.22)" text-anchor="middle" dominant-baseline="central" font-family="'Liberation Sans',sans-serif" font-weight="300">南宁迈世</text><text x="713.6" y="62.0" transform="rotate(-45 713.6 62.0)" font-size="13.5" font-weight="bold" font-style="italic" fill="rgba(242,205,110,0.42)" stroke="rgba(242,205,110,0.3)" stroke-width="0.8" text-anchor="middle" dominant-baseline="central" font-family="'Liberation Sans',sans-serif" letter-spacing="0.5">OIIIARA</text><text x="807.2" y="155.2" transform="rotate(-45 807.2 155.2)" font-size="16" fill="rgba(0,0,0,0.22)" text-anchor="middle" dominant-baseline="central" font-family="'Liberation Sans',sans-serif" font-weight="300">南宁迈世</text><text x="717.1" y="245.2" transform="rotate(-45 717.1 245.2)" font-size="13.5" font-weight="bold" font-style="italic" fill="rgba(242,205,110,0.42)" stroke="rgba(242,205,110,0.3)" stroke-width="0.8" text-anchor="middle" dominant-baseline="central" font-family="'Liberation Sans',sans-serif" letter-spacing="0.5">OIIIARA</text><text x="810.7" y="338.4" transform="rotate(-45 810.7 338.4)" font-size="16" fill="rgba(0,0,0,0.22)" text-anchor="middle" dominant-baseline="central" font-family="'Liberation Sans',sans-serif" font-weight="300">南宁迈世</text><text x="720.6" y="428.4" transform="rotate(-45 720.6 428.4)" font-size="13.5" font-weight="bold" font-style="italic" fill="rgba(242,205,110,0.42)" stroke="rgba(242,205,110,0.3)" stroke-width="0.8" text-anchor="middle" dominant-baseline="central" font-family="'Liberation Sans',sans-serif" letter-spacing="0.5">OIIIARA</text><text x="814.2" y="521.6" transform="rotate(-45 814.2 521.6)" font-size="16" fill="rgba(0,0,0,0.22)" text-anchor="middle" dominant-baseline="central" font-family="'Liberation Sans',sans-serif" font-weight="300">南宁迈世</text><text x="724.1" y="611.6" transform="rotate(-45 724.1 611.6)" font-size="13.5" font-weight="bold" font-style="italic" fill="rgba(242,205,110,0.42)" stroke="rgba(242,205,110,0.3)" stroke-width="0.8" text-anchor="middle" dominant-baseline="central" font-family="'Liberation Sans',sans-serif" letter-spacing="0.5">OIIIARA</text><text x="817.7" y="704.8" transform="rotate(-45 817.7 704.8)" font-size="16" fill="rgba(0,0,0,0.22)" text-anchor="middle" dominant-baseline="central" font-family="'Liberation Sans',sans-serif" font-weight="300">南宁迈世</text><text x="727.6" y="794.8" transform="rotate(-45 727.6 794.8)" font-size="13.5" font-weight="bold" font-style="italic" fill="rgba(242,205,110,0.42)" stroke="rgba(242,205,110,0.3)" stroke-width="0.8" text-anchor="middle" dominant-baseline="central" font-family="'Liberation Sans',sans-serif" letter-spacing="0.5">OIIIARA</text><text x="821.2" y="888.0" transform="rotate(-45 821.2 888.0)" font-size="16" fill="rgba(0,0,0,0.22)" text-anchor="middle" dominant-baseline="central" font-family="'Liberation Sans',sans-serif" font-weight="300">南宁迈世</text><text x="731.1" y="978.0" transform="rotate(-45 731.1 978.0)" font-size="13.5" font-weight="bold" font-style="italic" fill="rgba(242,205,110,0.42)" stroke="rgba(242,205,110,0.3)" stroke-width="0.8" text-anchor="middle" dominant-baseline="central" font-family="'Liberation Sans',sans-serif" letter-spacing="0.5">OIIIARA</text><text x="824.7" y="1071.2" transform="rotate(-45 824.7 1071.2)" font-size="16" fill="rgba(0,0,0,0.22)" text-anchor="middle" dominant-baseline="central" font-family="'Liberation Sans',sans-serif" font-weight="300">南宁迈世</text><text x="734.6" y="1161.2" transform="rotate(-45 734.6 1161.2)" font-size="13.5" font-weight="bold" font-style="italic" fill="rgba(242,205,110,0.42)" stroke="rgba(242,205,110,0.3)" stroke-width="0.8" text-anchor="middle" dominant-baseline="central" font-family="'Liberation Sans',sans-serif" letter-spacing="0.5">OIIIARA</text><text x="828.2" y="1254.5" transform="rotate(-45 828.2 1254.5)" font-size="16" fill="rgba(0,0,0,0.22)" text-anchor="middle" dominant-baseline="central" font-family="'Liberation Sans',sans-serif" font-weight="300">南宁迈世</text><text x="738.1" y="1344.4" transform="rotate(-45 738.1 1344.4)" font-size="13.5" font-weight="bold" font-style="italic" fill="rgba(242,205,110,0.42)" stroke="rgba(242,205,110,0.3)" stroke-width="0.8" text-anchor="middle" dominant-baseline="central" font-family="'Liberation Sans',sans-serif" letter-spacing="0.5">OIIIARA</text><text x="831.7" y="1437.7" transform="rotate(-45 831.7 1437.7)" font-size="16" fill="rgba(0,0,0,0.22)" text-anchor="middle" dominant-baseline="central" font-family="'Liberation Sans',sans-serif" font-weight="300">南宁迈世</text><text x="741.6" y="1527.6" transform="rotate(-45 741.6 1527.6)" font-size="13.5" font-weight="bold" font-style="italic" fill="rgba(242,205,110,0.42)" stroke="rgba(242,205,110,0.3)" stroke-width="0.8" text-anchor="middle" dominant-baseline="central" font-family="'Liberation Sans',sans-serif" letter-spacing="0.5">OIIIARA</text><text x="835.2" y="1620.8" transform="rotate(-45 835.2 1620.8)" font-size="16" fill="rgba(0,0,0,0.22)" text-anchor="middle" dominant-baseline="central" font-family="'Liberation Sans',sans-serif" font-weight="300">南宁迈世</text><text x="893.7" y="-117.9" transform="rotate(-45 893.7 -117.9)" font-size="13.5" font-weight="bold" font-style="italic" fill="rgba(242,205,110,0.42)" stroke="rgba(242,205,110,0.3)" stroke-width="0.8" text-anchor="middle" dominant-baseline="central" font-family="'Liberation Sans',sans-serif" letter-spacing="0.5">OIIIARA</text><text x="987.2" y="-24.6" transform="rotate(-45 987.2 -24.6)" font-size="16" fill="rgba(0,0,0,0.22)" text-anchor="middle" dominant-baseline="central" font-family="'Liberation Sans',sans-serif" font-weight="300">南宁迈世</text><text x="897.2" y="65.3" transform="rotate(-45 897.2 65.3)" font-size="13.5" font-weight="bold" font-style="italic" fill="rgba(242,205,110,0.42)" stroke="rgba(242,205,110,0.3)" stroke-width="0.8" text-anchor="middle" dominant-baseline="central" font-family="'Liberation Sans',sans-serif" letter-spacing="0.5">OIIIARA</text><text x="990.8" y="158.6" transform="rotate(-45 990.8 158.6)" font-size="16" fill="rgba(0,0,0,0.22)" text-anchor="middle" dominant-baseline="central" font-family="'Liberation Sans',sans-serif" font-weight="300">南宁迈世</text><text x="900.7" y="248.5" transform="rotate(-45 900.7 248.5)" font-size="13.5" font-weight="bold" font-style="italic" fill="rgba(242,205,110,0.42)" stroke="rgba(242,205,110,0.3)" stroke-width="0.8" text-anchor="middle" dominant-baseline="central" font-family="'Liberation Sans',sans-serif" letter-spacing="0.5">OIIIARA</text><text x="994.2" y="341.7" transform="rotate(-45 994.2 341.7)" font-size="16" fill="rgba(0,0,0,0.22)" text-anchor="middle" dominant-baseline="central" font-family="'Liberation Sans',sans-serif" font-weight="300">南宁迈世</text><text x="904.2" y="431.7" transform="rotate(-45 904.2 431.7)" font-size="13.5" font-weight="bold" font-style="italic" fill="rgba(242,205,110,0.42)" stroke="rgba(242,205,110,0.3)" stroke-width="0.8" text-anchor="middle" dominant-baseline="central" font-family="'Liberation Sans',sans-serif" letter-spacing="0.5">OIIIARA</text><text x="997.8" y="525.0" transform="rotate(-45 997.8 525.0)" font-size="16" fill="rgba(0,0,0,0.22)" text-anchor="middle" dominant-baseline="central" font-family="'Liberation Sans',sans-serif" font-weight="300">南宁迈世</text><text x="907.7" y="614.9" transform="rotate(-45 907.7 614.9)" font-size="13.5" font-weight="bold" font-style="italic" fill="rgba(242,205,110,0.42)" stroke="rgba(242,205,110,0.3)" stroke-width="0.8" text-anchor="middle" dominant-baseline="central" font-family="'Liberation Sans',sans-serif" letter-spacing="0.5">OIIIARA</text><text x="1001.2" y="708.1" transform="rotate(-45 1001.2 708.1)" font-size="16" fill="rgba(0,0,0,0.22)" text-anchor="middle" dominant-baseline="central" font-family="'Liberation Sans',sans-serif" font-weight="300">南宁迈世</text><text x="911.2" y="798.1" transform="rotate(-45 911.2 798.1)" font-size="13.5" font-weight="bold" font-style="italic" fill="rgba(242,205,110,0.42)" stroke="rgba(242,205,110,0.3)" stroke-width="0.8" text-anchor="middle" dominant-baseline="central" font-family="'Liberation Sans',sans-serif" letter-spacing="0.5">OIIIARA</text><text x="1004.8" y="891.4" transform="rotate(-45 1004.8 891.4)" font-size="16" fill="rgba(0,0,0,0.22)" text-anchor="middle" dominant-baseline="central" font-family="'Liberation Sans',sans-serif" font-weight="300">南宁迈世</text><text x="914.7" y="981.3" transform="rotate(-45 914.7 981.3)" font-size="13.5" font-weight="bold" font-style="italic" fill="rgba(242,205,110,0.42)" stroke="rgba(242,205,110,0.3)" stroke-width="0.8" text-anchor="middle" dominant-baseline="central" font-family="'Liberation Sans',sans-serif" letter-spacing="0.5">OIIIARA</text><text x="1008.2" y="1074.5" transform="rotate(-45 1008.2 1074.5)" font-size="16" fill="rgba(0,0,0,0.22)" text-anchor="middle" dominant-baseline="central" font-family="'Liberation Sans',sans-serif" font-weight="300">南宁迈世</text><text x="918.2" y="1164.5" transform="rotate(-45 918.2 1164.5)" font-size="13.5" font-weight="bold" font-style="italic" fill="rgba(242,205,110,0.42)" stroke="rgba(242,205,110,0.3)" stroke-width="0.8" text-anchor="middle" dominant-baseline="central" font-family="'Liberation Sans',sans-serif" letter-spacing="0.5">OIIIARA</text><text x="1011.8" y="1257.8" transform="rotate(-45 1011.8 1257.8)" font-size="16" fill="rgba(0,0,0,0.22)" text-anchor="middle" dominant-baseline="central" font-family="'Liberation Sans',sans-serif" font-weight="300">南宁迈世</text><text x="921.7" y="1347.7" transform="rotate(-45 921.7 1347.7)" font-size="13.5" font-weight="bold" font-style="italic" fill="rgba(242,205,110,0.42)" stroke="rgba(242,205,110,0.3)" stroke-width="0.8" text-anchor="middle" dominant-baseline="central" font-family="'Liberation Sans',sans-serif" letter-spacing="0.5">OIIIARA</text><text x="1015.2" y="1441.0" transform="rotate(-45 1015.2 1441.0)" font-size="16" fill="rgba(0,0,0,0.22)" text-anchor="middle" dominant-baseline="central" font-family="'Liberation Sans',sans-serif" font-weight="300">南宁迈世</text><text x="925.2" y="1530.9" transform="rotate(-45 925.2 1530.9)" font-size="13.5" font-weight="bold" font-style="italic" fill="rgba(242,205,110,0.42)" stroke="rgba(242,205,110,0.3)" stroke-width="0.8" text-anchor="middle" dominant-baseline="central" font-family="'Liberation Sans',sans-serif" letter-spacing="0.5">OIIIARA</text><text x="1018.8" y="1624.1" transform="rotate(-45 1018.8 1624.1)" font-size="16" fill="rgba(0,0,0,0.22)" text-anchor="middle" dominant-baseline="central" font-family="'Liberation Sans',sans-serif" font-weight="300">南宁迈世</text><text x="1077.3" y="-114.6" transform="rotate(-45 1077.3 -114.6)" font-size="13.5" font-weight="bold" font-style="italic" fill="rgba(242,205,110,0.42)" stroke="rgba(242,205,110,0.3)" stroke-width="0.8" text-anchor="middle" dominant-baseline="central" font-family="'Liberation Sans',sans-serif" letter-spacing="0.5">OIIIARA</text><text x="1170.8" y="-21.3" transform="rotate(-45 1170.8 -21.3)" font-size="16" fill="rgba(0,0,0,0.22)" text-anchor="middle" dominant-baseline="central" font-family="'Liberation Sans',sans-serif" font-weight="300">南宁迈世</text><text x="1080.8" y="68.6" transform="rotate(-45 1080.8 68.6)" font-size="13.5" font-weight="bold" font-style="italic" fill="rgba(242,205,110,0.42)" stroke="rgba(242,205,110,0.3)" stroke-width="0.8" text-anchor="middle" dominant-baseline="central" font-family="'Liberation Sans',sans-serif" letter-spacing="0.5">OIIIARA</text><text x="1174.3" y="161.8" transform="rotate(-45 1174.3 161.8)" font-size="16" fill="rgba(0,0,0,0.22)" text-anchor="middle" dominant-baseline="central" font-family="'Liberation Sans',sans-serif" font-weight="300">南宁迈世</text><text x="1084.3" y="251.8" transform="rotate(-45 1084.3 251.8)" font-size="13.5" font-weight="bold" font-style="italic" fill="rgba(242,205,110,0.42)" stroke="rgba(242,205,110,0.3)" stroke-width="0.8" text-anchor="middle" dominant-baseline="central" font-family="'Liberation Sans',sans-serif" letter-spacing="0.5">OIIIARA</text><text x="1177.8" y="345.0" transform="rotate(-45 1177.8 345.0)" font-size="16" fill="rgba(0,0,0,0.22)" text-anchor="middle" dominant-baseline="central" font-family="'Liberation Sans',sans-serif" font-weight="300">南宁迈世</text><text x="1087.8" y="435.0" transform="rotate(-45 1087.8 435.0)" font-size="13.5" font-weight="bold" font-style="italic" fill="rgba(242,205,110,0.42)" stroke="rgba(242,205,110,0.3)" stroke-width="0.8" text-anchor="middle" dominant-baseline="central" font-family="'Liberation Sans',sans-serif" letter-spacing="0.5">OIIIARA</text><text x="1181.3" y="528.2" transform="rotate(-45 1181.3 528.2)" font-size="16" fill="rgba(0,0,0,0.22)" text-anchor="middle" dominant-baseline="central" font-family="'Liberation Sans',sans-serif" font-weight="300">南宁迈世</text><text x="1091.3" y="618.2" transform="rotate(-45 1091.3 618.2)" font-size="13.5" font-weight="bold" font-style="italic" fill="rgba(242,205,110,0.42)" stroke="rgba(242,205,110,0.3)" stroke-width="0.8" text-anchor="middle" dominant-baseline="central" font-family="'Liberation Sans',sans-serif" letter-spacing="0.5">OIIIARA</text><text x="1184.8" y="711.4" transform="rotate(-45 1184.8 711.4)" font-size="16" fill="rgba(0,0,0,0.22)" text-anchor="middle" dominant-baseline="central" font-family="'Liberation Sans',sans-serif" font-weight="300">南宁迈世</text><text x="1094.8" y="801.4" transform="rotate(-45 1094.8 801.4)" font-size="13.5" font-weight="bold" font-style="italic" fill="rgba(242,205,110,0.42)" stroke="rgba(242,205,110,0.3)" stroke-width="0.8" text-anchor="middle" dominant-baseline="central" font-family="'Liberation Sans',sans-serif" letter-spacing="0.5">OIIIARA</text><text x="1188.3" y="894.6" transform="rotate(-45 1188.3 894.6)" font-size="16" fill="rgba(0,0,0,0.22)" text-anchor="middle" dominant-baseline="central" font-family="'Liberation Sans',sans-serif" font-weight="300">南宁迈世</text><text x="1098.3" y="984.6" transform="rotate(-45 1098.3 984.6)" font-size="13.5" font-weight="bold" font-style="italic" fill="rgba(242,205,110,0.42)" stroke="rgba(242,205,110,0.3)" stroke-width="0.8" text-anchor="middle" dominant-baseline="central" font-family="'Liberation Sans',sans-serif" letter-spacing="0.5">OIIIARA</text><text x="1191.8" y="1077.8" transform="rotate(-45 1191.8 1077.8)" font-size="16" fill="rgba(0,0,0,0.22)" text-anchor="middle" dominant-baseline="central" font-family="'Liberation Sans',sans-serif" font-weight="300">南宁迈世</text><text x="1101.8" y="1167.8" transform="rotate(-45 1101.8 1167.8)" font-size="13.5" font-weight="bold" font-style="italic" fill="rgba(242,205,110,0.42)" stroke="rgba(242,205,110,0.3)" stroke-width="0.8" text-anchor="middle" dominant-baseline="central" font-family="'Liberation Sans',sans-serif" letter-spacing="0.5">OIIIARA</text><text x="1195.3" y="1261.0" transform="rotate(-45 1195.3 1261.0)" font-size="16" fill="rgba(0,0,0,0.22)" text-anchor="middle" dominant-baseline="central" font-family="'Liberation Sans',sans-serif" font-weight="300">南宁迈世</text><text x="1105.3" y="1351.0" transform="rotate(-45 1105.3 1351.0)" font-size="13.5" font-weight="bold" font-style="italic" fill="rgba(242,205,110,0.42)" stroke="rgba(242,205,110,0.3)" stroke-width="0.8" text-anchor="middle" dominant-baseline="central" font-family="'Liberation Sans',sans-serif" letter-spacing="0.5">OIIIARA</text><text x="1198.8" y="1444.2" transform="rotate(-45 1198.8 1444.2)" font-size="16" fill="rgba(0,0,0,0.22)" text-anchor="middle" dominant-baseline="central" font-family="'Liberation Sans',sans-serif" font-weight="300">南宁迈世</text><text x="1108.8" y="1534.2" transform="rotate(-45 1108.8 1534.2)" font-size="13.5" font-weight="bold" font-style="italic" fill="rgba(242,205,110,0.42)" stroke="rgba(242,205,110,0.3)" stroke-width="0.8" text-anchor="middle" dominant-baseline="central" font-family="'Liberation Sans',sans-serif" letter-spacing="0.5">OIIIARA</text><text x="1260.9" y="-111.3" transform="rotate(-45 1260.9 -111.3)" font-size="13.5" font-weight="bold" font-style="italic" fill="rgba(242,205,110,0.42)" stroke="rgba(242,205,110,0.3)" stroke-width="0.8" text-anchor="middle" dominant-baseline="central" font-family="'Liberation Sans',sans-serif" letter-spacing="0.5">OIIIARA</text><text x="1264.4" y="71.9" transform="rotate(-45 1264.4 71.9)" font-size="13.5" font-weight="bold" font-style="italic" fill="rgba(242,205,110,0.42)" stroke="rgba(242,205,110,0.3)" stroke-width="0.8" text-anchor="middle" dominant-baseline="central" font-family="'Liberation Sans',sans-serif" letter-spacing="0.5">OIIIARA</text><text x="1267.9" y="255.1" transform="rotate(-45 1267.9 255.1)" font-size="13.5" font-weight="bold" font-style="italic" fill="rgba(242,205,110,0.42)" stroke="rgba(242,205,110,0.3)" stroke-width="0.8" text-anchor="middle" dominant-baseline="central" font-family="'Liberation Sans',sans-serif" letter-spacing="0.5">OIIIARA</text><text x="1271.4" y="438.3" transform="rotate(-45 1271.4 438.3)" font-size="13.5" font-weight="bold" font-style="italic" fill="rgba(242,205,110,0.42)" stroke="rgba(242,205,110,0.3)" stroke-width="0.8" text-anchor="middle" dominant-baseline="central" font-family="'Liberation Sans',sans-serif" letter-spacing="0.5">OIIIARA</text><text x="1274.9" y="621.5" transform="rotate(-45 1274.9 621.5)" font-size="13.5" font-weight="bold" font-style="italic" fill="rgba(242,205,110,0.42)" stroke="rgba(242,205,110,0.3)" stroke-width="0.8" text-anchor="middle" dominant-baseline="central" font-family="'Liberation Sans',sans-serif" letter-spacing="0.5">OIIIARA</text><text x="1278.4" y="804.7" transform="rotate(-45 1278.4 804.7)" font-size="13.5" font-weight="bold" font-style="italic" fill="rgba(242,205,110,0.42)" stroke="rgba(242,205,110,0.3)" stroke-width="0.8" text-anchor="middle" dominant-baseline="central" font-family="'Liberation Sans',sans-serif" letter-spacing="0.5">OIIIARA</text><text x="1281.9" y="987.9" transform="rotate(-45 1281.9 987.9)" font-size="13.5" font-weight="bold" font-style="italic" fill="rgba(242,205,110,0.42)" stroke="rgba(242,205,110,0.3)" stroke-width="0.8" text-anchor="middle" dominant-baseline="central" font-family="'Liberation Sans',sans-serif" letter-spacing="0.5">OIIIARA</text><text x="1285.4" y="1171.1" transform="rotate(-45 1285.4 1171.1)" font-size="13.5" font-weight="bold" font-style="italic" fill="rgba(242,205,110,0.42)" stroke="rgba(242,205,110,0.3)" stroke-width="0.8" text-anchor="middle" dominant-baseline="central" font-family="'Liberation Sans',sans-serif" letter-spacing="0.5">OIIIARA</text><text x="1288.9" y="1354.3" transform="rotate(-45 1288.9 1354.3)" font-size="13.5" font-weight="bold" font-style="italic" fill="rgba(242,205,110,0.42)" stroke="rgba(242,205,110,0.3)" stroke-width="0.8" text-anchor="middle" dominant-baseline="central" font-family="'Liberation Sans',sans-serif" letter-spacing="0.5">OIIIARA</text><text x="1292.4" y="1537.5" transform="rotate(-45 1292.4 1537.5)" font-size="13.5" font-weight="bold" font-style="italic" fill="rgba(242,205,110,0.42)" stroke="rgba(242,205,110,0.3)" stroke-width="0.8" text-anchor="middle" dominant-baseline="central" font-family="'Liberation Sans',sans-serif" letter-spacing="0.5">OIIIARA</text></g>
</svg>
</body></html>
